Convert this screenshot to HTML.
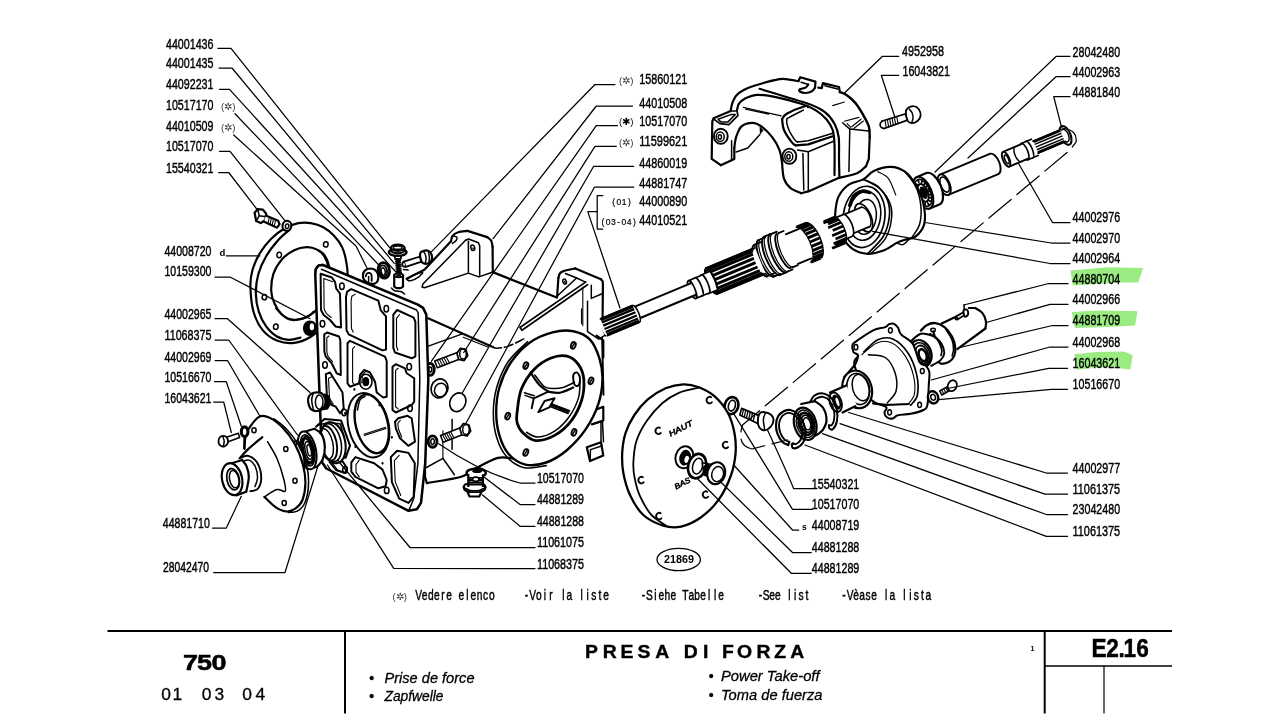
<!DOCTYPE html>
<html><head><meta charset="utf-8"><title>Presa di forza</title>
<style>
html,body{margin:0;padding:0;background:#fff;}
body{width:1280px;height:720px;overflow:hidden;}
svg{display:block;will-change:transform;font-family:"Liberation Sans",sans-serif;}
.l{fill:none;stroke:#000;stroke-width:1.5;stroke-linecap:round;stroke-linejoin:round}
.o{fill:#fff;stroke:#000;stroke-width:2.2;stroke-linecap:round;stroke-linejoin:round}
.f{fill:none;stroke:#000;stroke-width:2.2;stroke-linecap:round;stroke-linejoin:round}
.t{fill:none;stroke:#000;stroke-width:1.1;stroke-linecap:round;stroke-linejoin:round}
.k{fill:#000;stroke:none}
</style></head><body>
<svg width="1280" height="720" viewBox="0 0 1280 720">
<rect width="1280" height="720" fill="#fff"/>
<g id="hl" fill="#9aec82">
<polygon points="1070.4,270.4 1108,267.2 1143.1,268 1138.3,282.4 1120.7,282.4 1072.8,285.6"/>
<polygon points="1072,312 1100,310.4 1137.5,311.2 1135.1,325.5 1108,327.1 1075.2,327.9 1072.8,320.7"/>
<polygon points="1074.4,354.3 1096.8,351.9 1123.9,351.4 1132.7,355.1 1130.3,369.5 1108,367.1 1076.8,369.5"/>

</g>
<g id="parts">
<path class="o" d="M422.5,271.3 L451.6,240.3 L458.1,232.3 L467.5,230.9 L487.2,237.1 L492.6,246.9 L492.8,272.2 L557.1,296.6 L558.4,277.8 L562.8,271.6 L575.3,268.4 L601.6,279.7 L602.9,327.5 L603.4,404.4 L587.5,413.8 L505.0,438.1 L428.1,449.4 L418.8,365.0 L411.3,290.0 Z" style="stroke:none"/>
<path class="f" d="M451.0,241.3 C451.3,240.4 451.3,237.5 452.5,236.0 C453.7,234.5 455.6,233.1 458.1,232.3 C460.6,231.4 465.9,231.2 467.5,230.9"/>
<path class="f" d="M467.5,230.9 L487.2,237.1"/>
<path class="f" d="M487.2,237.1 C487.8,237.7 490.2,238.9 491.1,240.5 C492.0,242.1 492.4,245.8 492.6,246.9"/>
<path class="f" d="M492.6,246.9 L492.8,272.2"/>
<path class="f" d="M451.0,241.3 L424.4,269.8 L406.6,278.8"/>
<path class="l" d="M453.1,236.0 C453.7,236.2 456.3,236.4 456.8,237.1 C457.3,237.8 457.0,239.3 456.3,240.3 C455.5,241.4 453.1,243.0 452.5,243.5"/>
<path class="l" d="M465.6,240.3 L468.6,239.0 L478.4,242.8 L479.7,245.9 L479.7,275.4"/>
<path class="l" d="M468.4,241.3 L468.4,272.2"/>
<path class="l" d="M465.6,240.3 L422.9,284.0 L422.1,287.0 L424.4,287.8 L468.4,273.1 L478.8,276.9 L492.3,272.2"/>
<ellipse class="l" cx="472.8" cy="247.8" rx="1.9" ry="2.8" transform="rotate(-15 472.8 247.8)"/>
<ellipse class="k" cx="473.1" cy="248.4" rx="0.8" ry="1.1" transform="rotate(-15 473.1 248.4)"/>
<path class="l" d="M407.5,279.7 C407.8,278.8 410.6,276.6 413.1,275.4 C415.6,274.1 421.6,271.9 422.5,272.2 C423.4,272.4 420.6,275.5 418.8,276.9 C416.9,278.3 413.1,280.2 411.3,280.6 C409.4,281.1 407.2,280.6 407.5,279.7 Z"/>
<path class="f" d="M492.8,272.2 L556.8,297.5" style="stroke-width:2.40"/>
<path class="f" d="M557.1,297.1 L558.4,277.8"/>
<path class="f" d="M558.4,277.8 C558.7,277.1 558.8,274.7 559.8,273.5 C560.7,272.3 561.5,271.7 564.1,270.9 C566.7,270.0 573.4,268.8 575.3,268.4"/>
<path class="f" d="M575.3,268.4 L601.0,279.3"/>
<path class="f" d="M601.0,279.3 C601.3,279.7 602.4,280.6 602.7,281.6 C603.0,282.6 602.8,284.7 602.9,285.3"/>
<path class="f" d="M602.9,285.3 L602.5,327.5 L605.7,335.4"/>
<path class="l" d="M565.4,273.5 L576.6,278.0 L558.1,295.3"/>
<path class="l" d="M576.6,278.0 L585.6,282.1"/>
<path class="f" d="M585.6,282.1 L520.0,327.5 L521.9,330.3 L587.5,284.8" style="stroke-width:1.68"/>
<ellipse class="l" cx="564.6" cy="281.6" rx="1.7" ry="2.6" transform="rotate(-20 564.6 281.6)"/>
<ellipse class="k" cx="564.8" cy="281.9" rx="0.8" ry="1.1" transform="rotate(-20 564.8 281.9)"/>
<path class="l" d="M591.3,285.3 L591.3,298.4 L602.1,293.8"/>
<path class="l" d="M587.5,301.3 L587.5,331.6 L598.8,339.1 L604.8,335.4"/>
<path class="t" d="M582.8,287.2 L582.8,325.6 M581.5,308.8 L581.5,323.8"/>
<path class="f" d="M428.1,318.3 L492.8,347.0"/>
<path class="l" d="M492.8,347.0 C493.5,347.2 494.3,348.5 496.9,348.3 C499.6,348.2 504.0,347.7 508.6,346.1 C513.1,344.5 521.5,340.0 524.1,338.8" style="stroke-dasharray:9 3"/>
<path class="l" d="M428.3,346.1 L461.7,334.1"/>
<path class="t" d="M463.2,337.3 L487.8,347.0"/>
<path class="f" d="M596.5,335.7 L603.3,340.3 L603.3,357.5"/>
<path class="f" d="M597.6,409.1 L603.3,406.8 L603.3,420.5 L591.9,424.4"/>
<path class="f" d="M586.8,447.3 L601.0,442.3 L603.3,455.6 L590.0,461.1 L586.8,447.3"/>
<path class="l" d="M590.0,461.1 L590.5,449.6 L602.2,445.7"/>
<path class="l" d="M591.9,424.4 L601.0,421.7 L601.0,442.3"/>
<path class="f" d="M518.5,459.5 C517.4,459.3 515.1,458.6 511.7,458.3 C508.2,458.1 504.0,456.2 497.9,457.9 C491.8,459.6 481.1,465.5 475.0,468.6 C468.9,471.8 469.3,474.3 461.3,476.7 C453.2,479.1 432.6,482.0 426.9,483.1"/>
<path class="f" d="M426.9,483.1 L425.0,476.7 L425.0,458.3"/>
<path class="l" d="M426.4,467.5 L442.9,458.3 L454.4,474.8"/>
<path class="t" d="M442.9,458.3 L442.9,430.8"/>
<path class="l" d="M452.1,419.4 L452.1,449.2"/>
<ellipse class="l" cx="439.5" cy="388.4" rx="8.3" ry="9.6" transform="rotate(20 439.5 388.4)" style="stroke-width:1.68"/>
<ellipse class="l" cx="440.6" cy="390.0" rx="6.0" ry="6.9" transform="rotate(20 440.6 390.0)"/>
<ellipse class="l" cx="457.8" cy="402.2" rx="7.8" ry="9.6" transform="rotate(25 457.8 402.2)" style="stroke-width:1.68"/>
<path class="o" d="M460.0,351.4 L434.7,361.0 L437.3,367.8 L462.5,358.1 Z" style="stroke-width:1.56"/>
<path class="t" d="M446.1,356.7 L449.5,363.1 M443.8,357.5 L447.3,364.0 M441.6,358.4 L445.0,364.8 M439.3,359.3 L442.7,365.7 M437.0,360.1 L440.5,366.6"/>
<path class="o" d="M467.7,355.5 L464.2,360.6 L458.7,359.4 L456.9,353.2 L460.4,348.2 L465.8,349.3 Z" style="stroke-width:1.68"/>
<ellipse class="l" cx="463.0" cy="354.1" rx="3.3" ry="5.0" transform="rotate(0 463.0 354.1)"/>
<ellipse class="o" cx="430.3" cy="369.4" rx="3.9" ry="6.0" transform="rotate(0 430.3 369.4)" style="stroke-width:2.88"/>
<ellipse class="l" cx="430.3" cy="369.4" rx="1.4" ry="2.5" transform="rotate(0 430.3 369.4)"/>
<path class="o" d="M462.9,426.8 L440.5,435.5 L443.1,442.2 L465.5,433.5 Z" style="stroke-width:1.56"/>
<path class="t" d="M450.6,431.6 L454.0,438.0 M448.5,432.3 L452.0,438.8 M446.5,433.1 L450.0,439.6 M444.5,433.9 L448.0,440.3 M442.5,434.7 L446.0,441.1"/>
<path class="o" d="M470.7,430.9 L467.1,436.0 L461.7,434.8 L459.8,428.6 L463.4,423.5 L468.8,424.7 Z" style="stroke-width:1.68"/>
<ellipse class="l" cx="466.0" cy="429.5" rx="3.3" ry="5.0" transform="rotate(0 466.0 429.5)"/>
<ellipse class="o" cx="432.6" cy="441.6" rx="4.4" ry="5.7" transform="rotate(0 432.6 441.6)" style="stroke-width:2.88"/>
<ellipse class="l" cx="432.6" cy="441.6" rx="1.8" ry="2.8" transform="rotate(0 432.6 441.6)"/>
<path class="o" d="M496.2,412.5 C496.2,404.5 496.9,395.8 499.4,387.5 C501.8,379.2 505.8,370.0 510.8,362.5 C515.9,355.0 522.6,347.7 529.6,342.7 C536.5,337.7 545.2,334.2 552.5,332.3 C559.8,330.4 567.1,330.0 573.3,331.2 C579.6,332.5 585.7,335.1 590.0,339.6 C594.3,344.1 597.3,351.7 599.4,358.3 C601.5,364.9 602.7,371.5 602.5,379.2 C602.3,386.8 601.1,395.8 598.3,404.2 C595.6,412.5 591.0,421.5 585.8,429.2 C580.6,436.8 573.7,444.4 567.1,450.0 C560.5,455.6 553.2,460.1 546.2,462.5 C539.3,464.9 531.7,466.0 525.4,464.6 C519.2,463.2 513.1,459.0 508.8,454.2 C504.4,449.3 501.5,442.4 499.4,435.4 C497.3,428.5 496.2,420.5 496.2,412.5 Z" style="stroke-width:2.40"/>
<path class="l" d="M527.5,341.7 C524.3,345.0 513.5,353.8 508.3,361.5 C503.2,369.1 499.2,378.8 496.7,387.5 C494.2,396.2 493.3,405.2 493.3,413.5 C493.3,421.9 494.4,430.3 496.7,437.5 C498.9,444.7 502.0,451.6 506.7,456.7 C511.3,461.7 517.8,466.2 524.4,467.7 C531.0,469.2 542.6,466.0 546.2,465.6" style="stroke-width:1.56"/>
<path class="o" d="M517.1,412.5 C517.8,406.9 518.5,396.7 521.2,389.6 C524.0,382.5 528.9,375.0 533.8,369.8 C538.6,364.6 544.9,360.6 550.4,358.3 C556.0,356.1 562.4,355.2 567.1,356.2 C571.8,357.3 575.8,360.8 578.5,364.6 C581.3,368.4 583.2,373.3 583.8,379.2 C584.3,385.1 583.8,393.1 581.7,400.0 C579.6,406.9 575.8,414.9 571.2,420.8 C566.7,426.7 560.5,432.1 554.6,435.4 C548.7,438.7 541.0,441.0 535.8,440.6 C530.6,440.3 526.5,436.3 523.3,433.3 C520.2,430.4 518.1,426.4 517.1,422.9 C516.0,419.4 516.4,418.1 517.1,412.5 Z" style="stroke-width:2.76"/>
<path class="l" d="M526.5,432.3 C528.4,433.1 533.2,437.3 537.9,437.1 C542.6,436.9 549.4,434.7 554.6,431.2 C559.8,427.8 565.2,422.2 569.2,416.7 C573.2,411.1 576.7,403.8 578.5,397.9 C580.3,392.0 579.8,384.0 580.0,381.2"/>
<path class="f" d="M573.3,375.0 C573.8,373.0 576.0,372.0 577.1,372.5 C578.2,373.0 579.8,376.0 580.0,378.1 C580.2,380.3 579.5,384.4 578.5,385.4 C577.6,386.5 575.2,386.1 574.4,384.4 C573.5,382.6 572.9,377.0 573.3,375.0 Z" style="stroke-width:1.92"/>
<path class="f" d="M530.6,372.5 C532.0,374.5 536.0,381.2 539.0,384.4 C541.9,387.6 546.8,390.5 548.3,391.7" style="stroke-width:2.16"/>
<path class="f" d="M548.3,391.7 C550.2,391.8 555.6,393.4 559.8,392.7 C564.0,392.0 571.1,388.4 573.3,387.5" style="stroke-width:2.16"/>
<path class="l" d="M534.8,375.0 C536.4,376.9 541.2,384.2 544.2,386.5 C547.1,388.7 549.4,388.4 552.5,388.5 C555.6,388.7 559.3,388.5 562.9,387.5 C566.6,386.5 572.5,383.2 574.4,382.3"/>
<path class="f" d="M531.7,408.3 L533.8,398.3 L548.3,391.7" style="stroke-width:1.92"/>
<path class="f" d="M538.3,412.1 L544.6,401.0 L554.6,398.3 L549.4,407.3 L538.3,412.1" style="stroke-width:1.92"/>
<path class="l" d="M524.4,392.7 L534.2,395.8 M525.0,395.4 L533.3,398.3 M550.8,406.7 L568.1,413.5 M552.5,404.2 L569.6,410.8 M551.7,405.4 L568.8,412.1"/>
<ellipse class="l" cx="573.3" cy="345.4" rx="2.3" ry="3.5" transform="rotate(20 573.3 345.4)" style="stroke-width:1.80"/>
<path class="l" d="M572.1,347.3 L574.4,343.5"/>
<ellipse class="l" cx="525.8" cy="365.6" rx="2.3" ry="3.5" transform="rotate(20 525.8 365.6)" style="stroke-width:1.80"/>
<path class="l" d="M524.6,367.5 L526.9,363.8"/>
<ellipse class="l" cx="591.0" cy="380.8" rx="2.3" ry="3.5" transform="rotate(20 591.0 380.8)" style="stroke-width:1.80"/>
<path class="l" d="M589.8,382.7 L592.1,379.0"/>
<ellipse class="l" cx="507.7" cy="416.2" rx="2.3" ry="3.5" transform="rotate(20 507.7 416.2)" style="stroke-width:1.80"/>
<path class="l" d="M506.5,418.1 L508.8,414.4"/>
<ellipse class="l" cx="574.0" cy="432.3" rx="2.3" ry="3.5" transform="rotate(20 574.0 432.3)" style="stroke-width:1.80"/>
<path class="l" d="M572.7,434.2 L575.0,430.4"/>
<ellipse class="l" cx="525.8" cy="452.5" rx="2.3" ry="3.5" transform="rotate(20 525.8 452.5)" style="stroke-width:1.80"/>
<path class="l" d="M524.6,454.4 L526.9,450.6"/>
<path class="f" d="M602.1,337.9 L603.5,394.8" style="stroke-width:1.92"/>
<path class="l" d="M602.5,421.9 L603.5,441.7"/>
<path class="o" d="M250.4,286.7 C250.2,279.7 250.9,275.6 252.5,270.0 C254.1,264.4 256.7,258.5 259.8,253.3 C262.9,248.1 267.1,242.9 271.2,238.8 C275.4,234.6 280.3,230.9 284.8,228.3 C289.3,225.7 294.0,224.0 298.3,223.1 C302.7,222.3 306.7,222.4 310.8,223.1 C315.0,223.8 319.5,225.2 323.3,227.3 C327.2,229.4 330.6,232.3 333.8,235.6 C336.9,238.9 340.0,242.7 342.1,247.1 C344.2,251.4 345.4,256.5 346.2,261.7 C347.1,266.9 348.3,271.4 347.3,278.3 C346.2,285.3 343.3,296.0 340.0,303.3 C336.7,310.6 332.4,316.5 327.5,322.1 C322.6,327.6 316.4,333.2 310.8,336.7 C305.3,340.1 299.7,342.2 294.2,342.9 C288.6,343.6 282.7,342.9 277.5,340.8 C272.3,338.8 266.9,335.3 262.9,330.4 C258.9,325.6 255.6,319.0 253.5,311.7 C251.5,304.4 250.6,293.6 250.4,286.7 Z"/>
<path class="f" d="M290.0,229.4 C288.1,231.1 282.5,235.3 278.5,239.8 C274.5,244.3 269.4,250.7 266.0,256.5 C262.7,262.2 260.0,268.1 258.3,274.2 C256.6,280.2 255.8,286.7 255.8,292.9 C255.9,299.2 257.0,306.1 258.8,311.7 C260.5,317.2 263.1,322.2 266.0,326.2 C269.0,330.3 272.6,334.0 276.5,336.2 C280.3,338.5 285.0,339.5 289.0,339.8 C293.0,340.0 298.5,338.1 300.4,337.7"/>
<path class="o" d="M271.2,290.8 C271.1,286.0 271.6,279.4 273.3,274.2 C275.1,269.0 278.2,263.6 281.7,259.6 C285.1,255.6 290.0,252.3 294.2,250.2 C298.3,248.1 302.8,247.2 306.7,247.1 C310.5,247.0 314.1,248.0 317.1,249.6 C320.0,251.1 322.5,253.4 324.4,256.5 C326.3,259.5 327.8,263.2 328.5,267.9 C329.2,272.6 329.8,278.7 328.5,284.6 C327.3,290.5 324.5,298.1 321.2,303.3 C318.0,308.5 313.6,313.1 308.8,315.8 C303.9,318.6 296.6,320.3 292.1,320.0 C287.6,319.7 284.6,316.9 281.7,314.2 C278.7,311.4 276.1,307.2 274.4,303.3 C272.6,299.4 271.4,295.7 271.2,290.8 Z"/>
<path class="f" d="M318.1,250.2 C319.0,250.8 321.8,252.1 323.3,253.8 C324.8,255.4 326.1,257.8 327.1,260.0 C328.1,262.2 328.8,265.7 329.2,266.9"/>
<path class="l" d="M275.8,308.5 C277.2,309.8 280.7,314.4 283.8,316.2 C286.8,318.1 290.3,319.4 294.2,319.6 C298.0,319.8 303.5,318.8 306.7,317.5 C309.9,316.2 312.2,312.6 313.3,311.7"/>
<ellipse class="l" cx="325.8" cy="244.4" rx="2.3" ry="2.7" transform="rotate(10 325.8 244.4)"/>
<ellipse class="l" cx="279.2" cy="255.0" rx="2.3" ry="2.7" transform="rotate(10 279.2 255.0)"/>
<ellipse class="l" cx="264.4" cy="297.1" rx="2.3" ry="2.7" transform="rotate(10 264.4 297.1)"/>
<ellipse class="l" cx="275.8" cy="326.7" rx="2.3" ry="2.7" transform="rotate(10 275.8 326.7)"/>
<ellipse class="o" cx="309.8" cy="328.3" rx="5.8" ry="6.7" transform="rotate(0 309.8 328.3)" style="fill:#000"/>
<ellipse class="o" cx="311.9" cy="326.7" rx="3.3" ry="4.6" transform="rotate(0 311.9 326.7)"/>
<path class="o" d="M254.6,212.7 L257.7,209.2 L262.9,209.6 L266.2,213.8 L265.4,220.0 L260.8,223.1 L256.2,221.0 Z"/>
<path class="l" d="M257.7,209.2 L259.2,215.8 L256.2,221.0"/>
<path class="l" d="M259.2,215.8 L265.8,216.7"/>
<path class="o" d="M265.8,215.4 L278.1,220.8 L279.6,224.2 L277.1,227.7 L264.2,221.7"/>
<path class="t" d="M269.2,218.3 L267.9,223.1 M271.2,219.4 L270.0,224.2 M273.3,220.2 L272.1,225.2 M275.4,221.0 L274.2,226.2"/>
<ellipse class="o" cx="286.9" cy="225.8" rx="4.4" ry="5.0" transform="rotate(15 286.9 225.8)" style="stroke-width:2.16"/>
<ellipse class="l" cx="287.1" cy="226.2" rx="1.7" ry="2.3" transform="rotate(15 287.1 226.2)"/>
<path class="f" d="M315.3,275.0 C315.4,274.1 315.3,271.0 315.8,269.5 C316.3,268.0 317.4,266.6 318.5,265.8 C319.6,265.0 321.8,265.0 322.5,264.9"/>
<path class="o" d="M315.3,275.0 L315.8,269.0 L318.5,265.6 L323.0,265.0 L417.9,304.6 L423.1,307.9 L426.3,314.6 L428.3,380.0 L425.2,463.3 L421.0,502.9 L416.9,509.2 L408.5,510.8 L326.3,468.5 L322.1,462.3 L319.0,380.0 Z" style="stroke-width:2.52"/>
<path class="l" d="M321.5,269.2 L416.5,310.0 L418.2,313.0 L419.8,380.0 L417.9,463.3 L413.7,498.7 L409.0,510.0" style="stroke-width:1.50"/>
<path class="f" d="M320.6,273.7 L331.9,277.5 L335.0,281.9 L336.3,288.7 L340.0,293.7 L341.0,327.5 L335.6,326.5 L330.0,320.0 L323.7,315.0 L321.0,310.0 Z" style="stroke-width:1.98"/>
<path class="t" d="M331.1,317.5 L326.2,313.3 L324.1,309.1 L323.8,278.6 L332.6,281.8"/>
<path class="f" d="M346.0,296.9 L347.1,291.7 L351.3,289.2 L378.3,300.6 L380.8,310.4 L386.0,316.3 L386.0,349.6 L382.5,350.4 L348.7,334.4 L346.5,330.2 Z" style="stroke-width:1.98"/>
<path class="t" d="M353.2,332.1 L351.4,328.6 L351.1,300.6 L351.9,296.2 L355.2,294.1"/>
<path class="f" d="M393.3,314.6 L397.1,310.0 L413.7,317.7 L415.4,321.9 L415.4,356.3 L411.7,358.3 L395.0,352.5 L393.3,347.9 Z" style="stroke-width:1.98"/>
<path class="t" d="M397.9,350.2 L396.5,346.3 L396.5,318.3 L399.5,314.5"/>
<path class="f" d="M324.2,334.5 L327.0,332.5 L339.0,336.5 L340.3,340.0 L340.8,375.0 L336.7,373.3 L331.7,363.3 L325.8,356.7 L324.4,351.7 Z" style="stroke-width:1.98"/>
<path class="t" d="M332.6,361.9 L328.0,356.4 L326.9,352.2 L326.8,337.7 L328.9,336.0"/>
<path class="f" d="M325.8,374.2 L330.0,372.5 L342.5,392.5 L343.7,408.3 L340.0,413.3 L335.8,406.7 L331.7,405.0 L327.0,398.0 Z" style="stroke-width:1.98"/>
<path class="t" d="M333.1,404.1 L329.5,398.2 L328.5,378.2 L331.8,376.8"/>
<path class="f" d="M347.5,343.3 L350.0,340.8 L385.0,356.7 L386.7,360.8 L386.7,396.7 L383.3,397.5 L376.7,392.5 L375.0,381.7 L370.0,372.5 L364.2,370.0 L360.0,375.0 L359.2,383.3 L350.0,386.7 L347.5,383.3 Z" style="stroke-width:1.98"/>
<path class="t" d="M365.7,371.2 L362.4,375.4 L361.8,382.4 L354.6,385.2 L352.6,382.4 L352.6,348.8 L354.6,346.7"/>
<path class="f" d="M392.5,366.7 L395.8,364.2 L405.0,368.3 L406.7,373.3 L414.2,378.3 L414.2,401.7 L411.7,405.0 L395.8,412.5 L392.5,410.0 Z" style="stroke-width:1.98"/>
<path class="t" d="M398.2,408.9 L395.6,406.8 L395.6,370.4 L398.2,368.3"/>
<path class="f" d="M395.0,421.7 L398.3,418.3 L407.5,415.8 L411.7,418.3 L415.0,441.7 L408.3,445.8 L400.0,438.3 L395.8,428.3 Z" style="stroke-width:1.98"/>
<path class="t" d="M401.7,437.2 L398.4,428.8 L397.8,423.3 L400.3,420.4"/>
<path class="f" d="M390.8,457.1 L397.1,450.8 L408.5,452.9 L414.8,463.3 L413.7,496.7 L408.5,502.9 L399.2,498.7 L391.9,482.1 Z" style="stroke-width:1.98"/>
<path class="t" d="M400.8,495.5 L395.2,481.6 L394.3,460.6 L399.2,455.3"/>
<path class="f" d="M351.3,462.3 L355.4,457.1 L374.2,463.3 L382.5,469.6 L386.7,480.0 L385.6,486.3 L378.3,488.3 L355.4,476.9 L351.3,471.7 Z" style="stroke-width:1.98"/>
<path class="t" d="M359.2,476.7 L356.0,472.4 L356.0,464.5 L359.2,460.1"/>
<path class="f" d="M329.5,462.0 L333.0,458.0 L343.0,462.0 L347.0,468.0 L345.0,473.0 L336.0,470.0 Z" style="stroke-width:1.98"/>
<path class="t" d="M337.4,469.8 L332.4,463.1 L335.1,459.7"/>
<ellipse class="f" cx="368.5" cy="425.2" rx="20.0" ry="32.8" transform="rotate(-14 368.5 425.2)" style="stroke-width:1.92"/>
<ellipse class="f" cx="371.7" cy="423.8" rx="16.0" ry="30.0" transform="rotate(-14 371.7 423.8)" style="stroke-width:2.40"/>
<path class="l" d="M357.5,410.0 C357.9,408.3 358.8,402.2 360.0,400.0 C361.2,397.8 364.2,397.1 365.0,396.5"/>
<path class="t" d="M364.0,434.2 L385.6,427.2 M364.4,435.6 L386.0,428.6"/>
<ellipse class="f" cx="365.8" cy="381.7" rx="6.2" ry="7.5" transform="rotate(0 365.8 381.7)" style="stroke-width:1.56"/>
<ellipse class="k" cx="365.8" cy="381.7" rx="3.4" ry="4.6" transform="rotate(0 365.8 381.7)"/>
<ellipse class="l" cx="341.9" cy="286.3" rx="2.3" ry="3.2" transform="rotate(0 341.9 286.3)"/>
<ellipse class="l" cx="322.5" cy="323.7" rx="2.3" ry="3.2" transform="rotate(0 322.5 323.7)"/>
<ellipse class="l" cx="386.3" cy="308.7" rx="2.3" ry="3.2" transform="rotate(0 386.3 308.7)"/>
<ellipse class="l" cx="325.0" cy="365.0" rx="2.3" ry="3.2" transform="rotate(0 325.0 365.0)"/>
<ellipse class="l" cx="409.2" cy="366.7" rx="2.3" ry="3.2" transform="rotate(0 409.2 366.7)"/>
<ellipse class="l" cx="410.0" cy="408.3" rx="2.3" ry="3.2" transform="rotate(0 410.0 408.3)"/>
<ellipse class="l" cx="345.0" cy="470.0" rx="2.3" ry="3.2" transform="rotate(0 345.0 470.0)"/>
<ellipse class="l" cx="386.7" cy="490.4" rx="2.3" ry="3.2" transform="rotate(0 386.7 490.4)"/>
<ellipse class="l" cx="344.2" cy="412.5" rx="2.3" ry="3.2" transform="rotate(0 344.2 412.5)"/>
<ellipse class="k" cx="354.4" cy="389.4" rx="1.0" ry="1.4" transform="rotate(0 354.4 389.4)"/>
<ellipse class="k" cx="379.4" cy="405.0" rx="1.0" ry="1.4" transform="rotate(0 379.4 405.0)"/>
<ellipse class="k" cx="391.9" cy="437.3" rx="1.0" ry="1.4" transform="rotate(0 391.9 437.3)"/>
<ellipse class="k" cx="382.5" cy="463.3" rx="1.0" ry="1.4" transform="rotate(0 382.5 463.3)"/>
<ellipse class="k" cx="355.4" cy="446.7" rx="1.0" ry="1.4" transform="rotate(0 355.4 446.7)"/>
<ellipse class="k" cx="345.0" cy="413.3" rx="1.0" ry="1.4" transform="rotate(0 345.0 413.3)"/>
<path class="f" d="M316.1,426.7 L324.4,418.9 L341.1,420.6 L350.0,445.6 L345.6,457.8 L333.3,457.8" style="stroke-width:2.04"/>
<ellipse class="o" cx="333.1" cy="442.7" rx="12.1" ry="20.8" transform="rotate(-12 333.1 442.7)" style="stroke-width:2.04"/>
<ellipse class="f" cx="331.0" cy="442.7" rx="10.0" ry="19.2" transform="rotate(-12 331.0 442.7)" style="stroke-width:1.56"/>
<ellipse class="f" cx="328.3" cy="443.3" rx="8.3" ry="17.5" transform="rotate(-12 328.3 443.3)" style="stroke-width:1.92"/>
<ellipse class="l" cx="326.2" cy="443.8" rx="6.7" ry="15.4" transform="rotate(-12 326.2 443.8)"/>
<path class="l" d="M317.5,425.0 L330.0,422.5 L340.4,424.0 L344.2,437.5"/>
<path class="o" d="M302.9,432.3 L313.3,428.8 L323.8,437.5 L324.8,455.2 L317.5,466.7 L307.1,468.8 Z" style="stroke:none"/>
<path class="f" d="M304.6,431.7 L314.4,428.8"/>
<path class="f" d="M314.4,428.8 C315.6,429.7 319.9,431.4 321.7,434.4 C323.4,437.4 324.6,442.7 324.8,446.9 C325.0,451.0 324.0,456.1 322.7,459.4 C321.4,462.7 318.0,465.5 317.1,466.7"/>
<path class="f" d="M317.1,466.7 L307.5,469.2"/>
<ellipse class="o" cx="307.1" cy="450.4" rx="8.8" ry="19.2" transform="rotate(-12 307.1 450.4)" style="stroke-width:2.04"/>
<ellipse class="l" cx="307.5" cy="450.4" rx="6.7" ry="15.8" transform="rotate(-12 307.5 450.4)"/>
<ellipse class="f" cx="307.9" cy="450.4" rx="5.2" ry="12.9" transform="rotate(-12 307.9 450.4)" style="stroke-width:3.60;stroke-dasharray:2 2"/>
<ellipse class="o" cx="308.5" cy="450.4" rx="3.3" ry="9.2" transform="rotate(-12 308.5 450.4)" style="stroke-width:1.56"/>
<ellipse class="l" cx="309.2" cy="450.4" rx="1.9" ry="5.8" transform="rotate(-12 309.2 450.4)"/>
<ellipse class="o" cx="299.2" cy="455.8" rx="5.0" ry="15.4" transform="rotate(-12 299.2 455.8)" style="stroke-width:1.92"/>
<ellipse class="l" cx="299.8" cy="455.8" rx="3.5" ry="12.9" transform="rotate(-12 299.8 455.8)"/>
<path class="o" d="M249.8,427.1 C252.0,424.0 255.9,418.2 259.2,416.7 C262.5,415.1 265.8,416.0 269.6,417.7 C273.4,419.4 277.9,422.7 282.1,427.1 C286.3,431.4 291.1,437.5 294.6,443.8 C298.1,450.0 301.1,458.0 302.9,464.6 C304.7,471.2 305.5,477.4 305.4,483.3 C305.3,489.2 304.1,495.8 302.5,500.0 C300.9,504.2 298.3,506.4 295.6,508.3 C293.0,510.2 290.0,511.6 286.7,511.5 C283.4,511.3 279.5,509.7 275.8,507.3 C272.1,504.9 267.7,499.5 264.4,496.9 C261.1,494.3 258.5,492.7 256.0,491.7 C253.6,490.6 251.7,493.4 249.8,490.6 C247.9,487.8 246.3,480.4 244.6,475.0 C242.8,469.6 239.2,462.8 239.4,458.3 C239.5,453.8 244.6,451.7 245.6,447.9 C246.7,444.1 244.9,438.9 245.6,435.4 C246.3,431.9 247.5,430.2 249.8,427.1 Z" style="stroke:none"/>
<path class="f" d="M244.6,449.0 C244.8,446.7 244.8,439.1 245.6,435.4 C246.5,431.8 247.5,430.2 249.8,427.1 C252.0,424.0 255.9,418.2 259.2,416.7 C262.5,415.1 265.8,416.0 269.6,417.7 C273.4,419.4 277.9,422.7 282.1,427.1 C286.3,431.4 291.1,437.5 294.6,443.8 C298.1,450.0 301.1,458.0 302.9,464.6 C304.7,471.2 305.5,477.4 305.4,483.3 C305.3,489.2 304.1,495.8 302.5,500.0 C300.9,504.2 298.3,506.4 295.6,508.3 C293.0,510.2 290.0,511.6 286.7,511.5 C283.4,511.3 279.5,509.7 275.8,507.3 C272.1,504.9 266.3,498.6 264.4,496.9" style="stroke-width:2.16"/>
<path class="f" d="M273.8,418.8 C275.8,420.4 282.2,424.4 286.2,428.8 C290.3,433.1 295.0,438.8 298.3,444.8 C301.7,450.8 304.8,458.0 306.5,464.6 C308.2,471.2 308.8,478.1 308.5,484.4 C308.3,490.7 306.8,498.1 305.0,502.5 C303.2,506.9 300.5,509.2 297.7,510.8 C294.9,512.5 289.9,512.2 288.3,512.5" style="stroke-width:1.56"/>
<path class="f" d="M262.3,437.1 C259.9,439.2 251.4,446.1 247.7,449.6 C244.0,453.1 241.3,456.5 240.0,457.9"/>
<path class="l" d="M267.5,441.7 C269.1,444.4 274.2,452.1 276.9,458.3 C279.6,464.6 282.4,473.7 283.8,479.2 C285.1,484.7 286.4,489.5 285.2,491.2 C284.1,493.0 280.3,488.6 276.9,489.6 C273.4,490.5 266.5,495.7 264.4,496.9"/>
<path class="f" d="M239.4,458.3 C240.8,457.9 244.8,455.1 247.7,455.8 C250.7,456.5 254.8,459.0 257.1,462.5 C259.3,466.0 261.1,472.7 261.2,477.1 C261.4,481.4 259.9,486.2 258.1,488.5 C256.3,490.9 251.7,490.8 250.4,491.2" style="stroke-width:1.92"/>
<path class="l" d="M243.5,460.8 C244.6,460.8 247.8,459.4 249.8,460.4 C251.8,461.4 254.1,463.7 255.4,466.7 C256.7,469.6 257.6,474.8 257.5,478.1 C257.4,481.4 255.4,485.1 255.0,486.5"/>
<ellipse class="l" cx="254.0" cy="430.2" rx="2.1" ry="2.5" transform="rotate(0 254.0 430.2)"/>
<ellipse class="l" cx="285.8" cy="449.0" rx="2.1" ry="2.5" transform="rotate(0 285.8 449.0)"/>
<ellipse class="l" cx="295.0" cy="480.8" rx="2.1" ry="2.5" transform="rotate(0 295.0 480.8)"/>
<ellipse class="l" cx="284.2" cy="503.1" rx="2.1" ry="2.5" transform="rotate(0 284.2 503.1)"/>
<path class="o" d="M231.7,463.3 L242.1,460.4 L247.7,472.9 L246.7,491.7 L236.2,495.4 L223.8,483.3 Z" style="stroke:none"/>
<path class="f" d="M231.0,463.5 L242.1,460.0"/>
<path class="f" d="M236.2,495.4 L246.2,491.7"/>
<path class="f" d="M242.1,460.0 C242.8,461.1 245.6,463.8 246.7,466.7 C247.8,469.5 248.8,472.9 248.8,477.1 C248.7,481.3 246.7,489.2 246.2,491.7"/>
<ellipse class="o" cx="232.1" cy="479.2" rx="10.0" ry="16.2" transform="rotate(-12 232.1 479.2)" style="stroke-width:2.16"/>
<ellipse class="f" cx="233.1" cy="479.2" rx="6.2" ry="10.8" transform="rotate(-12 233.1 479.2)" style="stroke-width:1.68"/>
<ellipse class="l" cx="234.2" cy="479.2" rx="4.6" ry="8.8" transform="rotate(-12 234.2 479.2)"/>
<path class="o" d="M225.8,437.5 L238.3,433.3 L239.6,437.5 L227.5,442.1 Z" style="stroke-width:1.56"/>
<path class="o" d="M219.6,437.5 C220.4,436.5 222.1,435.8 223.3,435.8 C224.5,435.8 226.1,436.4 226.9,437.5 C227.6,438.6 228.3,441.3 227.9,442.7 C227.6,444.2 226.0,445.7 224.8,446.2 C223.6,446.8 221.7,446.5 220.6,445.8 C219.6,445.1 218.7,443.5 218.5,442.1 C218.4,440.7 218.8,438.5 219.6,437.5 Z" style="stroke-width:1.80"/>
<path class="l" d="M222.7,436.2 C223.0,437.1 224.1,439.7 224.2,441.2 C224.3,442.8 223.5,445.1 223.3,445.8"/>
<ellipse class="o" cx="244.6" cy="431.7" rx="3.3" ry="4.8" transform="rotate(0 244.6 431.7)" style="stroke-width:3.12"/>
<path class="l" d="M244.2,437.1 L243.8,448.3"/>
<path class="k" d="M324.2,393.3 L330.0,395.8 L331.0,404.2 L327.9,409.4 L321.7,410.4 Z"/>
<path class="o" d="M308.1,401.7 C307.8,399.4 308.2,397.3 309.2,395.8 C310.1,394.3 311.7,393.1 313.8,392.7 C315.8,392.3 319.7,392.2 321.7,393.3 C323.6,394.5 325.0,397.4 325.4,399.6 C325.8,401.8 325.3,404.8 324.2,406.7 C323.0,408.5 320.7,410.4 318.5,410.8 C316.4,411.3 313.0,410.9 311.2,409.4 C309.5,407.8 308.5,403.9 308.1,401.7 Z" style="stroke-width:2.16"/>
<path class="l" d="M313.3,393.3 C313.1,394.4 311.7,397.3 311.7,400.0 C311.7,402.7 313.1,407.8 313.3,409.4"/>
<ellipse class="l" cx="319.2" cy="402.1" rx="3.8" ry="7.1" transform="rotate(0 319.2 402.1)"/>
<path class="o" d="M711.7,158.9 L712.3,121.3 L713.5,118.3 L730.7,111.0 L732.1,103.8 L736.1,95.7 L743.3,90.3 L754.2,85.8 L779.4,79.1 L790.3,79.8 L798.4,81.2 L800.2,77.3 L815.5,81.6 L815.5,86.7 L821.9,88.1 L822.8,83.1 L839.0,87.0 L839.9,92.1 L846.2,94.8 L855.3,102.9 L862.5,113.7 L868.8,126.4 L869.7,137.2 L868.8,158.9 L866.1,166.1 L857.1,173.3 L839.0,177.8 L808.3,191.4 L801.1,193.2 L790.3,187.8 L784.0,178.7 L782.1,163.4 L779.4,149.9 L772.2,137.2 L761.4,126.4 L752.4,122.8 L741.5,126.4 L736.1,137.2 L734.3,158.9 L720.8,165.2 Z" style="stroke:none"/>
<path class="f" d="M720.8,165.2 L711.7,158.9 L712.3,121.3 L713.5,118.3 L730.7,111.0"/>
<path class="f" d="M730.7,111.0 C730.9,109.8 731.2,106.4 732.1,103.8 C733.0,101.3 734.2,97.9 736.1,95.7 C738.0,93.4 740.3,91.9 743.3,90.3 C746.3,88.6 748.1,87.6 754.2,85.8 C760.2,83.9 773.4,80.1 779.4,79.1 C785.5,78.1 787.1,79.4 790.3,79.8 C793.4,80.2 797.0,81.0 798.4,81.2"/>
<path class="f" d="M798.4,81.2 L800.2,77.3 L815.5,81.6 L815.0,87.6"/>
<path class="f" d="M815.0,87.6 C814.5,88.2 813.5,90.3 811.9,91.2 C810.4,92.1 807.6,92.9 805.6,93.0 C803.7,93.1 801.2,92.3 800.2,91.7 C799.2,91.1 798.8,90.1 799.7,89.4 C800.6,88.7 804.2,88.4 805.6,87.6 C807.1,86.8 807.9,85.0 808.3,84.5"/>
<path class="l" d="M808.3,84.5 L801.1,82.2"/>
<path class="f" d="M818.3,87.6 L821.9,88.1 L822.8,83.1 L839.0,87.0 L839.9,92.1"/>
<path class="l" d="M824.9,85.8 L837.6,89.0"/>
<path class="f" d="M839.9,92.1 C841.0,92.5 843.7,93.0 846.2,94.8 C848.8,96.6 852.6,99.8 855.3,102.9 C858.0,106.1 860.2,109.8 862.5,113.7 C864.7,117.7 867.6,122.5 868.8,126.4 C870.0,130.3 869.6,135.4 869.7,137.2" style="stroke-width:2.40"/>
<path class="f" d="M869.7,137.2 L868.8,158.9 L866.1,166.1"/>
<path class="f" d="M866.1,166.1 C864.6,167.3 861.6,171.4 857.1,173.3 C852.6,175.3 842.0,177.1 839.0,177.8"/>
<path class="f" d="M839.0,177.8 L808.3,191.4 L801.1,193.2"/>
<path class="f" d="M801.1,193.2 C799.3,192.3 793.1,190.2 790.3,187.8 C787.4,185.4 785.3,182.8 784.0,178.7 C782.6,174.7 782.4,166.0 782.1,163.4"/>
<path class="f" d="M782.1,163.4 C781.7,161.1 781.1,154.2 779.4,149.9 C777.8,145.5 775.2,141.1 772.2,137.2 C769.2,133.3 764.7,128.8 761.4,126.4 C758.1,124.0 755.7,122.8 752.4,122.8 C749.0,122.8 744.2,124.0 741.5,126.4 C738.8,128.8 737.3,133.6 736.1,137.2 C734.9,140.8 734.6,146.2 734.3,148.0"/>
<path class="f" d="M734.3,148.0 L734.3,158.9 L720.8,165.2"/>
<path class="l" d="M731.6,140.8 L731.6,160.1"/>
<path class="k" d="M759.6,126.0 L763.5,130.4 L759.9,134.5"/>
<path class="l" d="M759.9,134.5 L747.8,148.0 L736.1,152.0"/>
<path class="f" d="M737.0,110.1 C737.3,109.1 737.5,105.8 738.8,103.8 C740.2,101.9 742.0,99.9 745.1,98.4 C748.3,96.9 752.7,95.0 757.8,94.8 C762.9,94.6 768.6,95.6 775.8,97.1 C783.0,98.6 794.5,101.6 801.1,103.8 C807.7,106.0 811.3,107.6 815.5,110.1 C819.8,112.7 823.5,115.9 826.4,119.2 C829.2,122.5 831.3,125.8 832.7,130.0 C834.0,134.2 834.2,136.9 834.5,144.4 C834.8,152.0 834.5,170.0 834.5,175.1"/>
<path class="f" d="M759.6,88.8 C767.7,91.3 797.5,100.0 808.3,103.8 C819.2,107.7 820.2,108.6 824.6,111.9 C828.9,115.2 832.2,119.5 834.5,123.7 C836.8,127.9 837.9,131.3 838.7,137.2 C839.4,143.1 838.9,152.2 839.0,158.9 C839.1,165.6 839.3,174.2 839.4,177.3"/>
<path class="f" d="M808.3,107.1 C807.7,106.9 808.3,105.0 804.7,106.2 C801.1,107.3 790.4,111.6 786.7,113.7 C782.9,115.9 782.9,118.3 782.1,119.2"/>
<path class="f" d="M782.1,119.2 C782.4,121.0 782.3,126.1 784.0,130.0 C785.6,133.9 790.1,140.1 792.1,142.6 C794.0,145.2 795.1,144.9 795.7,145.3"/>
<path class="f" d="M795.7,145.3 L808.3,144.4 L832.7,136.3"/>
<path class="l" d="M803.3,110.1 C801.0,111.3 792.1,115.7 789.4,117.4 C786.6,119.0 786.8,118.1 786.7,120.1 C786.5,122.0 787.1,125.8 788.5,129.1 C789.8,132.4 793.3,137.8 794.8,139.9 C796.3,142.1 797.0,141.6 797.5,141.9"/>
<path class="l" d="M797.5,141.9 L808.3,140.8 L832.7,133.2"/>
<path class="t" d="M743.3,107.4 L781.2,115.9 M745.5,109.2 L768.6,114.1 M832.7,105.6 L844.4,102.0"/>
<path class="f" d="M730.7,111.0 L737.0,111.0 L737.9,115.6 L728.9,124.6 L719.9,123.7 L713.5,118.8" style="stroke-width:1.68"/>
<path class="l" d="M718.1,119.2 L730.7,114.6 L735.2,114.6 L728.0,121.9 L720.8,121.9 L718.1,119.2"/>
<ellipse class="o" cx="720.8" cy="136.3" rx="6.9" ry="7.6" transform="rotate(0 720.8 136.3)" style="stroke-width:1.92"/>
<ellipse class="l" cx="720.2" cy="136.7" rx="4.0" ry="4.7" transform="rotate(0 720.2 136.7)"/>
<ellipse class="l" cx="719.9" cy="136.9" rx="1.6" ry="2.2" transform="rotate(0 719.9 136.9)"/>
<ellipse class="o" cx="789.4" cy="156.2" rx="6.9" ry="7.6" transform="rotate(0 789.4 156.2)" style="stroke-width:1.92"/>
<ellipse class="l" cx="788.8" cy="156.5" rx="4.0" ry="4.7" transform="rotate(0 788.8 156.5)"/>
<ellipse class="l" cx="788.5" cy="156.7" rx="1.6" ry="2.2" transform="rotate(0 788.5 156.7)"/>
<path class="l" d="M802.9,153.5 L803.8,189.9 M808.3,151.7 L808.3,191.4"/>
<path class="l" d="M797.5,149.9 L808.3,151.7 L833.6,141.2"/>
<path class="l" d="M842.6,122.8 L849.8,129.1 L848.9,171.5"/>
<path class="l" d="M849.8,129.1 L868.8,130.9"/>
<path class="t" d="M844.4,121.3 L858.9,117.4 M851.7,126.7 L861.0,119.2 M853.8,128.5 L863.4,121.0 M847.1,123.7 L850.7,127.3"/>
<path class="o" d="M882.3,121.0 L905.8,113.7 L907.6,120.1 L884.1,128.5" style="stroke-width:1.68"/>
<path class="f" d="M882.3,121.0 C882.0,121.4 880.4,122.6 880.2,123.7 C880.0,124.7 880.4,126.5 881.1,127.3 C881.7,128.1 883.6,128.3 884.1,128.5" style="stroke-width:1.68"/>
<path class="t" d="M885.1,120.6 L886.3,127.8 M887.4,119.9 L888.7,126.9 M889.7,119.2 L891.0,126.0 M892.1,118.4 L893.4,125.3 M894.4,117.7 L895.7,124.4 M896.8,117.0 L898.1,123.7"/>
<path class="o" d="M905.8,112.3 C905.8,110.3 906.3,109.4 907.6,108.3 C909.0,107.3 912.1,106.0 913.9,106.2 C915.8,106.3 917.7,107.7 918.8,109.2 C919.9,110.8 920.8,113.6 920.6,115.6 C920.4,117.5 919.1,119.7 917.5,121.0 C916.0,122.2 913.2,123.2 911.6,123.1 C909.9,123.1 908.6,122.4 907.6,120.6 C906.7,118.8 905.8,114.3 905.8,112.3 Z" style="stroke-width:1.80"/>
<path class="l" d="M909.4,109.2 C909.9,109.8 911.5,111.3 912.1,112.8 C912.7,114.3 913.1,116.6 913.0,118.3 C912.9,119.9 911.8,122.0 911.6,122.8"/>
<g transform="translate(664.4,301.1) rotate(-22.6)"><ellipse cx="434.0" cy="1.2" rx="5.0" ry="10.0" fill="#fff" stroke="#000" stroke-width="2.04"/>
<ellipse cx="433.5" cy="1.2" rx="3.4" ry="6.8" fill="none" stroke="#000" stroke-width="1.44"/>
<path d="M401.0,-6.0 L432.0,-6.0 L432.0,7.0 L401.0,7.0 A2.6,6.5 0 0 1 401.0,-6.0 Z" fill="#fff" stroke="none"/>
<path d="M401.0,-6.0 L432.0,-6.0 M401.0,7.0 L432.0,7.0" fill="none" stroke="#000" stroke-width="1.56" stroke-linecap="round"/>
<path d="M402.0,-5.9 L431.0,-5.9 M402.0,-4.7 L431.0,-4.7 M402.0,-2.4 L431.0,-2.4 M402.0,0.5 L431.0,0.5 M402.0,3.4 L431.0,3.4 M402.0,5.7 L431.0,5.7 M402.0,6.9 L431.0,6.9 " fill="none" stroke="#000" stroke-width="1.50"/>
<path d="M395.0,-8.4 L401.0,-8.4 L401.0,9.2 L395.0,9.2 A3.1,8.8 0 0 1 395.0,-8.4 Z" fill="#fff" stroke="none"/>
<path d="M395.0,-8.4 L401.0,-8.4 M395.0,9.2 L401.0,9.2" fill="none" stroke="#000" stroke-width="1.68" stroke-linecap="round"/>
<ellipse cx="395.0" cy="0.4" rx="3.1" ry="8.8" fill="#fff" stroke="#000" stroke-width="1.68"/>
<path d="M390.0,-8.4 L396.0,-8.4 L396.0,9.2 L390.0,9.2 A3.1,8.8 0 0 1 390.0,-8.4 Z" fill="#fff" stroke="none"/>
<path d="M390.0,-8.4 L396.0,-8.4 M390.0,9.2 L396.0,9.2" fill="none" stroke="#000" stroke-width="1.68" stroke-linecap="round"/>
<ellipse cx="390.0" cy="0.4" rx="3.1" ry="8.8" fill="#fff" stroke="#000" stroke-width="1.68"/>
<path d="M370.0,-7.7 L391.0,-7.7 L391.0,8.3 L370.0,8.3 A3.2,8.0 0 0 1 370.0,-7.7 Z" fill="#fff" stroke="none"/>
<path d="M370.0,-7.7 L391.0,-7.7 M370.0,8.3 L391.0,8.3" fill="none" stroke="#000" stroke-width="1.92" stroke-linecap="round"/>
<ellipse cx="370.0" cy="0.3" rx="3.2" ry="8.0" fill="#fff" stroke="#000" stroke-width="1.92"/>
<ellipse cx="370.5" cy="0.6" rx="1.8" ry="4.6" fill="none" stroke="#000" stroke-width="1.56"/>
<path d="M383.0,-7.7 A3.2,8.0 0 0 0 383.0,8.3" fill="none" stroke="#000" stroke-width="1.44"/>
<path d="M303.0,-10.9 L357.0,-10.9 A5.5,11.0 0 0 1 357.0,11.1 L303.0,11.1 A5.5,11.0 0 0 1 303.0,-10.9 Z" fill="#fff" stroke="none"/>
<path d="M303.0,-10.9 L357.0,-10.9 M303.0,11.1 L357.0,11.1 M357.0,-10.9 A5.5,11.0 0 0 1 357.0,11.1" fill="none" stroke="#000" stroke-width="1.92" stroke-linecap="round"/>
<ellipse cx="303.0" cy="0.1" rx="5.5" ry="11.0" fill="#fff" stroke="#000" stroke-width="1.92"/>
<ellipse cx="303.5" cy="0.1" rx="4.0" ry="8.0" fill="none" stroke="#000" stroke-width="1.56"/>
<path d="M300,-4 A4,8 0 0 1 307.5,0.1 A4,6 0 0 0 300,-4 Z" fill="#000"/>
<path d="M280.5,-17.5 L291.0,-17.5 A8.5,17.0 0 0 1 291.0,16.5 L280.5,16.5 A8.5,17.0 0 0 1 280.5,-17.5 Z" fill="#fff" stroke="none"/>
<path d="M280.5,-17.5 L291.0,-17.5 M280.5,16.5 L291.0,16.5 M291.0,-17.5 A8.5,17.0 0 0 1 291.0,16.5" fill="none" stroke="#000" stroke-width="2.16" stroke-linecap="round"/>
<ellipse cx="280.5" cy="-0.5" rx="8.5" ry="17.0" fill="#fff" stroke="#000" stroke-width="2.16"/>
<ellipse cx="280.5" cy="-0.5" rx="7.2" ry="14.3" fill="none" stroke="#000" stroke-width="1.56"/>
<ellipse cx="280.5" cy="-0.5" rx="5.9" ry="11.8" fill="none" stroke="#000" stroke-width="3.84" stroke-dasharray="1.8 1.4"/>
<ellipse cx="280.5" cy="-0.5" rx="4.7" ry="9.3" fill="none" stroke="#000" stroke-width="1.92"/>
<ellipse cx="281.0" cy="-0.5" rx="3.0" ry="6.0" fill="#000" stroke="#000" stroke-width="1.20"/>
</g>
<path class="o" d="M835.2,213.8 C835.6,209.2 836.1,201.9 838.3,197.1 C840.6,192.2 844.6,187.5 848.8,184.6 C852.9,181.6 859.2,181.6 863.3,179.4 C867.5,177.1 869.2,173.1 873.8,171.0 C878.3,169.0 885.2,166.8 890.4,166.9 C895.6,167.0 900.8,168.7 905.0,171.7 C909.2,174.6 912.4,179.3 915.4,184.6 C918.5,189.9 921.9,196.7 923.3,203.3 C924.8,209.9 925.5,218.6 924.2,224.2 C922.8,229.7 918.6,234.1 915.4,236.7 C912.2,239.3 908.1,238.8 905.0,239.8 C901.9,240.8 900.1,241.2 896.7,242.9 C893.2,244.7 889.0,248.4 884.2,250.2 C879.3,252.0 872.7,253.9 867.5,253.8 C862.3,253.6 857.3,252.0 852.9,249.2 C848.6,246.3 844.3,240.8 841.5,236.7 C838.6,232.5 836.9,228.0 835.8,224.2 C834.8,220.3 834.8,218.3 835.2,213.8 Z" style="stroke-width:2.16"/>
<path class="f" d="M863.3,179.4 C865.8,180.6 873.8,183.0 877.9,186.7 C882.0,190.3 886.0,196.0 887.9,201.2 C889.8,206.5 890.0,212.0 889.2,217.9 C888.4,223.8 886.7,230.7 883.1,236.7 C879.5,242.6 870.1,250.9 867.5,253.8" style="stroke-width:1.68"/>
<path class="l" d="M865.8,180.4 C868.2,181.8 875.9,184.8 880.0,188.8 C884.1,192.7 888.5,199.0 890.4,204.4 C892.3,209.8 892.1,215.3 891.2,221.0 C890.4,226.8 888.5,233.4 885.2,238.8 C881.9,244.1 873.9,250.6 871.7,252.9"/>
<ellipse class="f" cx="864.0" cy="216.9" rx="20.8" ry="30.8" transform="rotate(8 864.0 216.9)" style="stroke-width:1.68"/>
<ellipse class="f" cx="864.4" cy="215.8" rx="16.2" ry="24.6" transform="rotate(8 864.4 215.8)" style="stroke-width:1.56"/>
<path class="f" d="M849.8,205.4 C850.5,203.9 851.9,198.4 854.0,196.0 C856.0,193.7 859.7,191.8 862.3,191.2 C864.9,190.7 868.4,192.3 869.6,192.5" style="stroke-width:3.60"/>
<ellipse class="l" cx="865.4" cy="216.9" rx="10.8" ry="17.5" transform="rotate(8 865.4 216.9)"/>
<path class="l" d="M905.0,171.7 C906.8,174.2 913.2,181.0 915.8,186.7 C918.5,192.3 920.2,199.2 920.8,205.4 C921.5,211.7 921.1,218.8 919.6,224.2 C918.1,229.5 913.0,235.5 911.7,237.7"/>
<path class="t" d="M877.9,171.7 C879.7,172.8 885.3,174.4 888.3,178.3 C891.3,182.2 894.6,192.2 895.8,195.0"/>
<path class="l" d="M896.7,242.9 C897.7,243.2 900.8,245.2 902.9,244.6 C905.0,244.0 908.1,240.1 909.2,239.2"/>
<g transform="translate(664.4,301.1) rotate(-22.6)">
<ellipse cx="216.0" cy="-0.4" rx="7.5" ry="15.0" fill="#fff" stroke="#000" stroke-width="1.80"/>
<ellipse cx="217.0" cy="-0.4" rx="5.4" ry="10.8" fill="none" stroke="#000" stroke-width="1.32"/>
<path d="M197.0,-10.9 L218.0,-10.9 L218.0,10.1 L197.0,10.1 A4.2,10.5 0 0 1 197.0,-10.9 Z" fill="#fff" stroke="none"/>
<path d="M197.0,-10.9 L218.0,-10.9 M197.0,10.1 L218.0,10.1" fill="none" stroke="#000" stroke-width="1.80" stroke-linecap="round"/>
<path d="M191.0,-11.2 L198.0,-11.2 A4.7,11.8 0 0 1 198.0,12.4 L191.0,12.4 A4.7,11.8 0 0 1 191.0,-11.2 Z" fill="#fff" stroke="none"/>
<path d="M191.0,-11.2 L198.0,-11.2 M191.0,12.4 L198.0,12.4 M198.0,-11.2 A4.7,11.8 0 0 1 198.0,12.4" fill="none" stroke="#000" stroke-width="1.68" stroke-linecap="round"/>
<path d="M177.0,-12.2 A5.6,14.0 0 0 1 177.0,15.8 L188.5,15.8 A5.6,14.0 0 0 0 188.5,-12.2 Z" fill="#fff" stroke="none"/>
<path d="M177.6,-12.1 L189.1,-12.1 M176.8,-10.9 L190.8,-10.9 M180.8,-8.4 L192.3,-8.4 M179.4,-4.8 L193.4,-4.8 M182.5,-0.5 L194.0,-0.5 M180.0,4.1 L194.0,4.1 M181.9,8.4 L193.4,8.4 M178.3,12.0 L192.3,12.0 M179.3,14.5 L190.8,14.5 M175.1,15.7 L189.1,15.7 " fill="none" stroke="#000" stroke-width="2.76" stroke-linecap="butt"/>
<path d="M188.5,-12.2 A5.6,14.0 0 0 1 188.5,15.8" fill="none" stroke="#000" stroke-width="1.44"/>
<path d="M149.5,-17.6 A7.6,19.0 0 0 1 149.5,20.4 L160.5,20.4 A7.6,19.0 0 0 0 160.5,-17.6 Z" fill="#fff" stroke="none"/>
<path d="M150.3,-17.5 L161.3,-17.5 M152.1,-16.5 L163.1,-16.5 M153.7,-14.4 L164.7,-14.4 M155.1,-11.3 L166.1,-11.3 M156.2,-7.5 L167.2,-7.5 M156.9,-3.2 L167.9,-3.2 M157.1,1.4 L168.1,1.4 M156.9,6.0 L167.9,6.0 M156.2,10.3 L167.2,10.3 M155.1,14.1 L166.1,14.1 M153.7,17.2 L164.7,17.2 M152.1,19.3 L163.1,19.3 M150.3,20.3 L161.3,20.3 " fill="none" stroke="#000" stroke-width="2.88" stroke-linecap="butt"/>
<path d="M160.5,-17.6 A7.6,19.0 0 0 1 160.5,20.4" fill="none" stroke="#000" stroke-width="1.44"/>
<path d="M149.5,-17.6 A7.6,19.0 0 0 1 149.5,20.4" fill="none" stroke="#000" stroke-width="1.20"/>
<path d="M133.0,-15.0 L152.0,-15.0 L152.0,17.0 L133.0,17.0 A5.6,16.0 0 0 1 133.0,-15.0 Z" fill="#fff" stroke="none"/>
<path d="M133.0,-15.0 L152.0,-15.0 M133.0,17.0 L152.0,17.0" fill="none" stroke="#000" stroke-width="1.92" stroke-linecap="round"/>
<path d="M130.0,-18.9 L137.0,-18.9 L137.0,18.1 L130.0,18.1 A6.1,18.5 0 0 1 130.0,-18.9 Z" fill="#fff" stroke="none"/>
<path d="M130.0,-18.9 L137.0,-18.9 M130.0,18.1 L137.0,18.1" fill="none" stroke="#000" stroke-width="1.80" stroke-linecap="round"/>
<path d="M123.5,-20.9 L130.5,-20.9 L130.5,20.1 L123.5,20.1 A6.8,20.5 0 0 1 123.5,-20.9 Z" fill="#fff" stroke="none"/>
<path d="M123.5,-20.9 L130.5,-20.9 M123.5,20.1 L130.5,20.1" fill="none" stroke="#000" stroke-width="1.80" stroke-linecap="round"/>
<path d="M117.0,-21.2 L124.0,-21.2 L124.0,20.4 L117.0,20.4 A6.9,20.8 0 0 1 117.0,-21.2 Z" fill="#fff" stroke="none"/>
<path d="M117.0,-21.2 L124.0,-21.2 M117.0,20.4 L124.0,20.4" fill="none" stroke="#000" stroke-width="1.80" stroke-linecap="round"/>
<path d="M110.5,-20.2 L117.5,-20.2 L117.5,19.4 L110.5,19.4 A6.5,19.8 0 0 1 110.5,-20.2 Z" fill="#fff" stroke="none"/>
<path d="M110.5,-20.2 L117.5,-20.2 M110.5,19.4 L117.5,19.4" fill="none" stroke="#000" stroke-width="1.80" stroke-linecap="round"/>
<path d="M104.5,-17.4 L111.5,-17.4 L111.5,16.6 L104.5,16.6 A5.6,17.0 0 0 1 104.5,-17.4 Z" fill="#fff" stroke="none"/>
<path d="M104.5,-17.4 L111.5,-17.4 M104.5,16.6 L111.5,16.6" fill="none" stroke="#000" stroke-width="1.80" stroke-linecap="round"/>
<path d="M130.0,-18.9 A6.1,18.5 0 0 0 130.0,18.1" fill="none" stroke="#000" stroke-width="1.92"/>
<path d="M132.4,-18.9 A6.1,18.5 0 0 0 132.4,18.1" fill="none" stroke="#000" stroke-width="1.20"/>
<path d="M123.5,-20.9 A6.8,20.5 0 0 0 123.5,20.1" fill="none" stroke="#000" stroke-width="1.92"/>
<path d="M125.9,-20.9 A6.8,20.5 0 0 0 125.9,20.1" fill="none" stroke="#000" stroke-width="1.20"/>
<path d="M117.0,-21.2 A6.9,20.8 0 0 0 117.0,20.4" fill="none" stroke="#000" stroke-width="1.92"/>
<path d="M119.4,-21.2 A6.9,20.8 0 0 0 119.4,20.4" fill="none" stroke="#000" stroke-width="1.20"/>
<path d="M110.5,-20.2 A6.5,19.8 0 0 0 110.5,19.4" fill="none" stroke="#000" stroke-width="1.92"/>
<path d="M112.9,-20.2 A6.5,19.8 0 0 0 112.9,19.4" fill="none" stroke="#000" stroke-width="1.20"/>
<path d="M104.5,-17.4 A5.6,17.0 0 0 0 104.5,16.6" fill="none" stroke="#000" stroke-width="1.92"/>
<path d="M106.9,-17.4 A5.6,17.0 0 0 0 106.9,16.6" fill="none" stroke="#000" stroke-width="1.20"/>
<path d="M51.0,-14.2 L104.0,-14.2 L104.0,13.4 L51.0,13.4 A4.1,13.8 0 0 1 51.0,-14.2 Z" fill="#fff" stroke="none"/>
<path d="M51.0,-14.2 L104.0,-14.2 M51.0,13.4 L104.0,13.4" fill="none" stroke="#000" stroke-width="1.68" stroke-linecap="round"/>
<ellipse cx="51.0" cy="-0.4" rx="4.1" ry="13.8" fill="#fff" stroke="#000" stroke-width="1.68"/>
<path d="M50.3,-14.0 L102.3,-14.0 M48.9,-12.4 L100.9,-12.4 M47.8,-9.3 L99.8,-9.3 M47.1,-5.1 L99.1,-5.1 M46.9,-0.4 L98.9,-0.4 M47.1,4.3 L99.1,4.3 M47.8,8.5 L99.8,8.5 M48.9,11.6 L100.9,11.6 M50.3,13.2 L102.3,13.2 " fill="none" stroke="#000" stroke-width="2.94"/>
<ellipse cx="51.0" cy="-0.4" rx="3.3" ry="11.0" fill="#fff" stroke="#000" stroke-width="1.20"/>
<path d="M44.0,-10.0 L53.0,-10.0 L53.0,10.0 L44.0,10.0 A3.0,10.0 0 0 1 44.0,-10.0 Z" fill="#fff" stroke="none"/>
<path d="M44.0,-10.0 L53.0,-10.0 M44.0,10.0 L53.0,10.0" fill="none" stroke="#000" stroke-width="1.68" stroke-linecap="round"/>
<ellipse cx="44.0" cy="0.0" rx="3.0" ry="10.0" fill="#fff" stroke="#000" stroke-width="1.68"/>
<path d="M37.0,-9.6 L45.0,-9.6 L45.0,9.6 L37.0,9.6 A2.9,9.6 0 0 1 37.0,-9.6 Z" fill="#fff" stroke="none"/>
<path d="M37.0,-9.6 L45.0,-9.6 M37.0,9.6 L45.0,9.6" fill="none" stroke="#000" stroke-width="1.68" stroke-linecap="round"/>
<ellipse cx="37.0" cy="0.0" rx="2.9" ry="9.6" fill="#fff" stroke="#000" stroke-width="1.68"/>
<path d="M30.0,-9.6 L38.0,-9.6 L38.0,9.6 L30.0,9.6 A2.9,9.6 0 0 1 30.0,-9.6 Z" fill="#fff" stroke="none"/>
<path d="M30.0,-9.6 L38.0,-9.6 M30.0,9.6 L38.0,9.6" fill="none" stroke="#000" stroke-width="1.68" stroke-linecap="round"/>
<ellipse cx="30.0" cy="0.0" rx="2.9" ry="9.6" fill="#fff" stroke="#000" stroke-width="1.68"/>
<path d="M33.0,-9.6 A2.9,9.6 0 0 0 33.0,9.6" fill="none" stroke="#000" stroke-width="1.08"/>
<path d="M-32.0,-6.3 L31.0,-6.3 L31.0,6.3 L-32.0,6.3 A2.2,6.3 0 0 1 -32.0,-6.3 Z" fill="#fff" stroke="none"/>
<path d="M-32.0,-6.3 L31.0,-6.3 M-32.0,6.3 L31.0,6.3" fill="none" stroke="#000" stroke-width="2.04" stroke-linecap="round"/>
<path d="M-66.0,-8.1 L-31.0,-8.1 A2.7,9.0 0 0 1 -31.0,9.9 L-66.0,9.9 A2.7,9.0 0 0 1 -66.0,-8.1 Z" fill="#fff" stroke="none"/>
<path d="M-66.0,-8.1 L-31.0,-8.1 M-66.0,9.9 L-31.0,9.9 M-31.0,-8.1 A2.7,9.0 0 0 1 -31.0,9.9" fill="none" stroke="#000" stroke-width="1.56" stroke-linecap="round"/>
<path d="M-66.0,-8.0 L-31.0,-8.0 M-66.0,-6.7 L-31.0,-6.7 M-66.0,-4.2 L-31.0,-4.2 M-66.0,-0.9 L-31.0,-0.9 M-66.0,2.7 L-31.0,2.7 M-66.0,6.0 L-31.0,6.0 M-66.0,8.5 L-31.0,8.5 M-66.0,9.8 L-31.0,9.8 " fill="none" stroke="#000" stroke-width="2.22"/></g>
<path class="o" d="M941.7,323.6 L968.8,308.0 L975.0,308.0 L982.3,313.2 L985.9,321.0 L985.4,328.3 L957.3,349.2 L943.8,353.3 L931.2,336.7 Z" style="stroke:none"/>
<path class="f" d="M941.7,323.6 L954.2,317.4"/>
<path class="f" d="M968.8,308.0 L975.0,308.0"/>
<path class="f" d="M975.0,308.0 C976.2,308.8 980.5,310.7 982.3,312.9 C984.1,315.1 985.4,318.4 985.9,321.0 C986.5,323.6 985.5,327.3 985.4,328.5"/>
<path class="f" d="M985.4,328.5 L957.3,349.2"/>
<path class="o" d="M920.8,330.6 C921.9,329.7 924.7,326.1 927.1,324.9 C929.5,323.6 932.5,322.7 935.4,323.1 C938.4,323.5 942.0,325.0 944.8,327.3 C947.6,329.5 950.3,333.4 952.1,336.7 C953.8,340.0 954.9,343.9 955.2,347.1 C955.6,350.3 955.2,353.5 954.2,355.9 C953.1,358.4 951.0,360.6 949.0,361.9 C946.9,363.2 943.5,363.8 941.7,363.8 C939.8,363.7 938.6,362.0 938.0,361.7" style="stroke-width:2.28"/>
<path class="l" d="M945.8,329.4 C946.8,331.1 950.6,336.5 951.9,339.8 C953.2,343.1 953.5,346.5 953.5,349.2 C953.6,351.9 952.3,354.8 952.1,355.9"/>
<path class="o" d="M913.5,340.0 L921.9,333.8 L934.4,336.1 L943.8,349.2 L941.7,357.5 L934.4,363.8 L926.0,366.9 Z" style="stroke:none"/>
<path class="f" d="M911.5,340.8 C912.3,340.1 914.8,337.4 916.7,336.1 C918.5,334.9 919.4,333.5 922.4,333.5 C925.3,333.5 932.4,335.7 934.4,336.1"/>
<path class="f" d="M934.4,336.1 C935.6,337.4 940.0,341.1 941.7,344.0 C943.3,346.8 944.4,350.6 944.3,353.3 C944.1,356.0 942.8,358.0 940.6,360.1 C938.5,362.2 932.8,364.9 931.2,365.8" style="stroke-width:1.92"/>
<path class="f" d="M930.2,333.8 C931.4,334.8 935.6,337.2 937.5,339.8 C939.4,342.4 941.1,346.6 941.7,349.2 C942.3,351.8 941.2,354.4 941.1,355.4" style="stroke-width:1.80"/>
<ellipse class="l" cx="933.1" cy="329.9" rx="2.3" ry="1.7" transform="rotate(0 933.1 329.9)"/>
<path class="f" d="M933.1,331.5 L934.4,335.1"/>
<ellipse class="o" cx="920.8" cy="353.5" rx="10.4" ry="13.8" transform="rotate(-20 920.8 353.5)" style="stroke-width:2.16"/>
<ellipse class="f" cx="921.4" cy="353.9" rx="8.3" ry="11.5" transform="rotate(-20 921.4 353.9)" style="stroke-width:1.56"/>
<ellipse class="f" cx="921.9" cy="354.4" rx="6.2" ry="9.2" transform="rotate(-20 921.9 354.4)" style="stroke-width:1.80"/>
<ellipse class="f" cx="922.7" cy="355.2" rx="3.8" ry="6.2" transform="rotate(-20 922.7 355.2)" style="stroke-width:2.64"/>
<path class="o" d="M956.2,316.4 L963.5,312.2 L965.1,314.8 L957.8,319.2 Z" style="stroke-width:1.80"/>
<path class="o" d="M963.5,310.6 C963.9,309.5 965.9,309.2 966.7,309.6 C967.4,309.9 968.1,311.7 968.2,312.7 C968.3,313.8 967.8,315.2 967.2,315.8 C966.6,316.4 965.2,317.2 964.6,316.4 C964.0,315.5 963.2,311.8 963.5,310.6 Z" style="stroke-width:1.92"/>
<path class="f" d="M956.2,316.4 C956.1,316.6 955.2,317.4 955.2,317.9 C955.2,318.4 955.8,319.3 956.2,319.5 C956.7,319.7 957.6,319.2 957.8,319.2" style="stroke-width:1.80"/>
<path class="l" d="M964.1,308.8 L964.1,305.0"/>
<path class="o" d="M852.5,344.8 C853.1,342.9 853.8,343.0 857.2,340.6 C860.6,338.2 868.4,332.6 873.1,330.3 C877.8,328.1 882.7,328.2 885.3,327.1 C888.0,326.1 887.7,324.7 889.1,324.1 C890.5,323.6 892.3,323.2 893.8,323.8 C895.2,324.3 896.6,325.7 897.9,327.5 C899.1,329.3 898.8,332.0 901.3,334.6 C903.7,337.3 909.4,338.8 912.5,343.4 C915.6,348.0 917.4,358.4 919.6,362.2 C921.9,365.9 924.4,364.2 926.0,365.9 C927.6,367.7 928.9,369.4 929.4,372.5 C929.8,375.6 929.1,379.4 928.8,384.7 C928.5,390.0 928.4,400.2 927.5,404.4 C926.6,408.6 926.2,408.4 923.4,410.0 C920.6,411.6 914.9,412.9 910.6,413.8 C906.4,414.6 900.8,414.5 897.9,415.3 C894.9,416.0 894.6,418.1 892.8,418.4 C891.0,418.8 888.6,418.4 887.2,417.5 C885.8,416.6 884.5,414.5 884.4,412.8 C884.2,411.1 887.8,408.9 886.3,407.2 C884.7,405.5 878.1,404.5 875.0,402.5 C871.9,400.5 870.9,401.3 867.5,395.0 C864.1,388.8 855.9,371.6 854.4,365.0 C852.8,358.4 858.3,357.8 858.1,355.6 C858.0,353.4 854.4,353.7 853.4,351.9 C852.5,350.1 851.9,346.6 852.5,344.8 Z" style="stroke-width:2.04"/>
<path class="f" d="M863.8,351.9 C866.1,349.8 873.0,341.8 877.8,339.7 C882.7,337.6 887.8,336.9 892.8,339.1 C897.8,341.3 903.8,346.9 907.8,352.8 C911.8,358.7 915.0,367.3 916.6,374.4 C918.2,381.4 918.4,389.8 917.4,395.0 C916.4,400.2 911.8,403.6 910.6,405.3" style="stroke-width:1.68"/>
<path class="t" d="M861.9,354.7 C864.4,352.7 871.9,344.8 876.9,342.9 C881.9,340.9 887.2,340.8 891.9,342.9 C896.6,345.0 901.4,350.2 905.0,355.6 C908.6,361.0 911.9,368.9 913.4,375.3 C915.0,381.7 915.2,389.3 914.4,394.1 C913.5,398.8 909.4,402.3 908.4,404.0"/>
<path class="f" d="M858.1,355.6 C857.7,357.0 857.7,360.5 855.3,364.1 C853.0,367.7 845.9,375.0 844.1,377.2"/>
<path class="f" d="M873.1,403.4 C875.3,403.7 880.3,404.7 886.3,404.8 C892.2,404.8 905.0,404.1 908.8,404.0"/>
<path class="l" d="M868.4,354.7 C871.3,355.2 880.8,354.4 885.3,357.5 C889.8,360.6 893.5,367.8 895.3,373.4 C897.0,379.1 897.3,386.3 896.0,391.3 C894.7,396.2 888.7,400.9 887.2,402.9"/>
<ellipse class="l" cx="890.4" cy="330.3" rx="1.9" ry="2.6" transform="rotate(0 890.4 330.3)"/>
<ellipse class="l" cx="855.9" cy="347.2" rx="1.9" ry="2.6" transform="rotate(0 855.9 347.2)"/>
<ellipse class="l" cx="922.3" cy="371.0" rx="1.9" ry="2.6" transform="rotate(0 922.3 371.0)"/>
<ellipse class="l" cx="919.6" cy="404.8" rx="1.9" ry="2.6" transform="rotate(0 919.6 404.8)"/>
<ellipse class="l" cx="889.6" cy="412.3" rx="1.9" ry="2.6" transform="rotate(0 889.6 412.3)"/>
<ellipse class="o" cx="857.2" cy="389.4" rx="14.6" ry="19.1" transform="rotate(-15 857.2 389.4)" style="stroke-width:2.16"/>
<ellipse class="f" cx="858.1" cy="389.0" rx="10.9" ry="15.8" transform="rotate(-15 858.1 389.0)" style="stroke-width:1.68"/>
<ellipse class="l" cx="860.9" cy="387.5" rx="8.4" ry="13.5" transform="rotate(-15 860.9 387.5)"/>
<path class="o" d="M939.7,390.9 L950.0,385.3 L952.3,389.0 L941.8,395.0 Z" style="stroke-width:1.56"/>
<path class="t" d="M941.8,390.1 L943.6,393.7 M943.8,389.0 L945.7,392.6 M945.9,387.9 L947.8,391.4"/>
<path class="o" d="M948.5,383.4 C949.2,382.2 950.6,380.6 951.9,380.4 C953.1,380.1 955.2,380.9 956.0,381.9 C956.8,382.8 957.1,384.6 956.8,386.0 C956.4,387.4 955.3,389.5 954.1,390.3 C953.0,391.1 951.1,391.3 950.0,390.9 C948.9,390.4 948.0,388.8 947.8,387.5 C947.5,386.3 947.8,384.6 948.5,383.4 Z" style="stroke-width:1.80"/>
<ellipse class="o" cx="933.1" cy="397.3" rx="5.1" ry="6.2" transform="rotate(-20 933.1 397.3)" style="stroke-width:2.40"/>
<ellipse class="l" cx="933.1" cy="397.3" rx="2.3" ry="3.0" transform="rotate(-20 933.1 397.3)"/>
<path class="o" d="M830.0,392.5 L846.2,385.6 L856.9,405.0 L842.5,412.5 Z" style="stroke:none"/>
<path class="f" d="M830.0,392.5 L846.2,385.6"/>
<path class="f" d="M842.5,412.5 L855.2,406.2"/>
<ellipse class="o" cx="835.6" cy="402.2" rx="5.8" ry="10.0" transform="rotate(-18 835.6 402.2)" style="stroke-width:1.92"/>
<ellipse class="k" cx="836.5" cy="402.2" rx="4.0" ry="7.8" transform="rotate(-18 836.5 402.2)"/>
<ellipse class="o" cx="837.5" cy="401.9" rx="2.2" ry="5.2" transform="rotate(-18 837.5 401.9)" style="stroke:none"/>
<ellipse class="l" cx="837.5" cy="401.9" rx="2.2" ry="5.2" transform="rotate(-18 837.5 401.9)"/>
<path class="f" d="M810.2,401.9 C810.9,400.8 812.2,397.0 814.4,395.6 C816.5,394.2 820.2,393.0 823.1,393.5 C826.0,394.0 829.6,396.0 831.9,398.8 C834.2,401.5 836.0,406.2 836.9,410.0 C837.7,413.8 837.5,418.1 836.9,421.2 C836.2,424.4 834.4,427.8 833.1,429.0 C831.9,430.2 830.1,429.1 829.4,428.5 C828.7,427.9 829.1,425.8 829.0,425.2" style="stroke-width:2.04"/>
<path class="f" d="M813.1,402.5 C813.6,401.8 814.6,399.4 816.2,398.5 C817.9,397.6 820.8,396.4 823.1,396.9 C825.4,397.3 828.2,399.0 830.0,401.2 C831.8,403.5 833.3,407.5 834.0,410.6 C834.7,413.8 834.4,417.6 834.0,420.0 C833.6,422.4 832.7,424.1 831.9,425.0 C831.0,425.9 829.5,425.2 829.0,425.2" style="stroke-width:1.80"/>
<path class="o" d="M802.5,403.5 L815.0,401.2 L823.8,408.8 L826.5,421.2 L822.8,430.0 L817.5,434.4 L806.2,440.0 Z" style="stroke:none"/>
<path class="f" d="M801.2,404.0 L815.0,401.2"/>
<path class="f" d="M815.0,401.2 C816.4,402.5 821.6,405.3 823.5,408.5 C825.4,411.7 826.6,417.0 826.5,420.6 C826.4,424.2 824.2,427.7 822.8,430.0 C821.2,432.3 818.4,433.6 817.5,434.4"/>
<path class="f" d="M817.5,434.4 L808.1,439.4"/>
<ellipse class="o" cx="805.2" cy="423.8" rx="11.0" ry="16.5" transform="rotate(-15 805.2 423.8)" style="stroke-width:2.16"/>
<ellipse class="f" cx="805.6" cy="423.8" rx="9.0" ry="14.0" transform="rotate(-15 805.6 423.8)" style="stroke-width:1.44"/>
<ellipse class="f" cx="806.0" cy="423.8" rx="7.1" ry="11.2" transform="rotate(-15 806.0 423.8)" style="stroke-width:2.76;stroke-dasharray:2.2 2.2"/>
<ellipse class="o" cx="806.5" cy="423.8" rx="5.2" ry="8.8" transform="rotate(-15 806.5 423.8)" style="stroke-width:1.80"/>
<ellipse class="f" cx="807.0" cy="423.8" rx="3.5" ry="6.2" transform="rotate(-15 807.0 423.8)" style="stroke-width:1.44"/>
<path class="f" d="M788.1,445.0 C787.2,444.5 784.3,443.8 782.5,441.9 C780.7,440.0 778.6,436.6 777.5,433.8 C776.4,430.9 775.9,427.9 776.0,425.0 C776.1,422.1 776.8,418.5 778.1,416.2 C779.4,414.0 781.7,412.3 783.8,411.2 C785.8,410.2 788.2,409.5 790.6,410.0 C793.0,410.5 795.9,412.1 798.1,414.4 C800.3,416.7 802.5,420.5 803.8,423.8 C805.0,427.0 805.7,430.6 805.6,433.8 C805.5,436.9 804.5,440.2 803.1,442.5 C801.8,444.8 799.3,446.6 797.5,447.5 C795.7,448.4 793.4,448.3 792.5,447.8 C791.6,447.2 792.0,444.9 791.9,444.4" style="stroke-width:2.16"/>
<path class="f" d="M789.4,441.9 C788.5,441.5 785.9,440.9 784.4,439.4 C782.9,437.8 781.1,434.9 780.2,432.5 C779.4,430.1 778.9,427.4 779.0,425.0 C779.1,422.6 779.8,420.0 780.8,418.1 C781.8,416.3 783.4,414.8 785.0,414.0 C786.6,413.2 788.7,412.6 790.6,413.1 C792.5,413.6 794.8,415.0 796.5,416.9 C798.2,418.8 800.0,421.7 801.0,424.4 C802.0,427.1 802.6,430.5 802.5,433.1 C802.4,435.7 801.5,438.2 800.5,440.0 C799.5,441.8 797.5,443.4 796.2,444.0 C795.0,444.6 793.6,443.6 793.1,443.5" style="stroke-width:1.92"/>
<path class="f" d="M788.1,445.0 L789.4,441.9"/>
<path class="f" d="M791.9,444.4 L793.1,443.5"/>
<path class="o" d="M741.6,408.4 L759.6,415.9 L757.8,423.4 L739.8,415.0 Z" style="stroke-width:1.68"/>
<path class="t" d="M743.5,409.4 L742.0,415.6 M745.8,410.3 L744.3,416.7 M748.0,411.3 L746.5,417.6 M750.3,412.2 L748.8,418.8 M752.5,413.1 L751.0,419.7 M754.8,414.1 L753.3,420.6" style="stroke-width:1.32"/>
<path class="o" d="M759.6,413.5 C760.8,411.8 762.8,411.9 764.7,412.2 C766.6,412.4 769.8,413.6 771.3,415.0 C772.7,416.4 773.7,418.6 773.5,420.6 C773.3,422.7 771.8,425.6 770.3,427.2 C768.8,428.8 766.5,430.3 764.7,430.4 C762.9,430.5 760.8,429.1 759.6,427.8 C758.5,426.4 757.8,424.5 757.8,422.1 C757.8,419.8 758.5,415.2 759.6,413.5 Z" style="stroke-width:1.92"/>
<path class="l" d="M765.6,412.8 C765.3,413.8 763.5,416.3 763.4,419.1 C763.2,422.0 764.5,428.2 764.7,430.0"/>
<ellipse class="o" cx="731.5" cy="405.6" rx="6.8" ry="8.6" transform="rotate(15 731.5 405.6)" style="stroke-width:2.64"/>
<ellipse class="l" cx="731.9" cy="405.6" rx="3.4" ry="5.4" transform="rotate(15 731.9 405.6)" style="stroke-width:1.68"/>
<path class="o" d="M622.2,452.8 C622.6,446.1 623.5,439.1 625.6,432.8 C627.6,426.5 630.7,420.6 634.4,415.0 C638.1,409.4 642.6,403.9 647.8,399.4 C653.0,395.0 659.6,390.9 665.6,388.3 C671.5,385.8 677.8,384.5 683.3,384.3 C688.9,384.1 693.7,385.3 698.9,387.2 C704.1,389.2 709.6,391.9 714.4,396.1 C719.3,400.4 724.4,406.7 727.8,412.8 C731.1,418.9 733.1,426.1 734.4,432.8 C735.7,439.4 736.1,445.7 735.6,452.8 C735.0,459.8 733.9,467.2 731.1,475.0 C728.3,482.8 723.9,492.4 718.9,499.4 C713.9,506.5 707.4,512.7 701.1,517.2 C694.8,521.7 687.4,525.1 681.1,526.6 C674.8,528.0 669.6,527.6 663.3,525.7 C657.0,523.7 648.9,520.1 643.3,515.0 C637.8,509.9 633.3,502.0 630.0,495.0 C626.7,488.0 624.6,479.8 623.3,472.8 C622.0,465.7 621.9,459.4 622.2,452.8 Z" style="stroke-width:2.28"/>
<path class="f" d="M698.9,387.7 C695.6,388.5 685.0,390.2 678.9,392.8 C672.8,395.4 667.6,398.5 662.2,403.2 C656.9,407.9 651.0,414.6 646.7,421.0 C642.3,427.4 638.4,434.5 636.2,441.7 C634.0,448.8 633.6,457.6 633.3,463.9 C633.1,470.2 633.8,474.1 634.9,479.4 C636.0,484.8 637.3,490.3 640.0,496.1 C642.7,502.0 646.9,509.7 651.1,514.6 C655.4,519.4 663.1,523.4 665.6,525.2" style="stroke-width:1.80"/>
<path class="f" style="stroke-width:1.80" d="M711.1,397.2 a3,3.3 0 1 0 0.8,5"/>
<path class="f" style="stroke-width:1.80" d="M660.0,427.9 a3,3.3 0 1 0 0.8,5"/>
<path class="f" style="stroke-width:1.80" d="M727.3,442.1 a3,3.3 0 1 0 0.8,5"/>
<path class="f" style="stroke-width:1.80" d="M642.9,477.2 a3,3.3 0 1 0 0.8,5"/>
<path class="f" style="stroke-width:1.80" d="M707.3,491.7 a3,3.3 0 1 0 0.8,5"/>
<path class="f" style="stroke-width:1.80" d="M660.7,513.2 a3,3.3 0 1 0 0.8,5"/>
<ellipse class="o" cx="684.4" cy="457.2" rx="8.9" ry="11.1" transform="rotate(15 684.4 457.2)" style="stroke-width:1.92"/>
<ellipse class="k" cx="685.1" cy="457.7" rx="5.8" ry="8.0" transform="rotate(15 685.1 457.7)"/>
<ellipse class="o" cx="686.7" cy="459.4" rx="2.2" ry="3.6" transform="rotate(15 686.7 459.4)" style="stroke:none"/>
<ellipse class="o" cx="697.1" cy="466.1" rx="8.9" ry="12.4" transform="rotate(15 697.1 466.1)" style="stroke-width:2.64"/>
<ellipse class="o" cx="697.6" cy="466.1" rx="4.9" ry="8.0" transform="rotate(15 697.6 466.1)" style="stroke-width:1.56"/>
<path class="o" d="M702.2,462.8 L714.4,465.0 L714.4,479.4 L704.4,475.0 Z" style="stroke-width:1.56"/>
<ellipse class="k" cx="706.0" cy="469.4" rx="3.1" ry="6.7" transform="rotate(15 706.0 469.4)"/>
<ellipse class="o" cx="716.2" cy="473.2" rx="8.9" ry="11.1" transform="rotate(15 716.2 473.2)" style="stroke-width:2.16"/>
<ellipse class="o" cx="717.6" cy="474.1" rx="5.8" ry="7.6" transform="rotate(15 717.6 474.1)" style="stroke-width:1.44"/>
<text x="670.4" y="436.8" font-size="8" font-style="italic" fill="#000" stroke="#000" stroke-width="0.54" transform="rotate(-27 670.4 436.8)" textLength="26" lengthAdjust="spacingAndGlyphs">HAUT</text>
<text x="676.0" y="489.4" font-size="7.5" font-style="italic" fill="#000" stroke="#000" stroke-width="0.54" transform="rotate(-27 676.0 489.4)" textLength="17" lengthAdjust="spacingAndGlyphs">BAS</text>
<path class="o" d="M362.9,274.8 C363.1,273.2 363.9,271.5 365.1,270.4 C366.3,269.4 368.4,268.6 370.0,268.5 C371.7,268.5 373.7,268.8 375.0,269.9 C376.3,270.9 377.6,273.0 378.1,274.8 C378.5,276.6 378.3,279.4 377.7,280.8 C377.1,282.3 376.0,283.2 374.4,283.6 C372.9,283.9 370.1,283.7 368.4,283.0 C366.7,282.4 364.9,281.1 364.0,279.7 C363.1,278.4 362.7,276.4 362.9,274.8 Z" style="stroke-width:2.16"/>
<path class="f" d="M365.7,276.4 C365.8,276.0 366.1,274.3 366.8,273.7 C367.4,273.1 368.7,272.7 369.5,272.9 C370.3,273.2 371.1,273.8 371.5,275.1 C371.8,276.4 371.7,279.9 371.7,280.8" style="stroke-width:1.80"/>
<path class="l" d="M368.6,276.4 L368.6,281.4"/>
<ellipse class="o" cx="383.8" cy="270.4" rx="5.7" ry="7.9" transform="rotate(-12 383.8 270.4)" style="stroke-width:2.64"/>
<ellipse class="f" cx="383.4" cy="271.0" rx="3.6" ry="5.7" transform="rotate(-12 383.4 271.0)" style="stroke-width:1.92"/>
<ellipse class="l" cx="383.2" cy="271.5" rx="2.0" ry="3.7" transform="rotate(-12 383.2 271.5)"/>
<path class="o" d="M394.2,275.3 L403.0,275.3 L403.0,286.9 L394.2,286.9 Z" style="stroke:none"/>
<path class="f" d="M394.2,275.3 L394.2,286.3"/>
<path class="f" d="M403.0,275.3 L403.0,286.3"/>
<path class="f" d="M394.2,286.3 C394.6,286.6 395.3,287.7 396.4,288.0 C397.5,288.2 399.7,288.2 400.8,288.0 C401.9,287.7 402.6,286.6 403.0,286.3"/>
<ellipse class="o" cx="398.6" cy="275.3" rx="4.4" ry="1.9" transform="rotate(0 398.6 275.3)" style="stroke-width:2.04"/>
<ellipse class="k" cx="398.6" cy="275.3" rx="2.6" ry="1.0" transform="rotate(0 398.6 275.3)"/>
<path class="l" d="M391.4,288.0 C392.0,288.4 393.1,290.1 394.7,290.7 C396.4,291.3 399.7,291.3 401.3,291.8 C403.0,292.4 404.1,293.6 404.6,294.0"/>
<path class="f" d="M395.6,259.4 L400.2,260.4 L395.8,261.5 L400.4,262.5 L395.9,263.6 L400.6,264.6 L396.1,265.7 L400.7,266.7 L396.3,267.8 L400.9,268.8 L396.4,269.9 L401.0,270.8 L396.6,271.9 L401.2,272.9" style="stroke-width:1.80"/>
<path class="o" d="M394.2,255.0 L401.3,255.0 L400.8,258.9 L395.3,258.9 Z" style="stroke-width:1.80"/>
<ellipse class="o" cx="397.7" cy="252.3" rx="8.8" ry="3.5" transform="rotate(0 397.7 252.3)" style="stroke-width:2.40"/>
<path class="o" d="M391.4,247.9 L391.4,251.2 L404.1,251.2 L404.1,247.9 Z" style="stroke:none"/>
<ellipse class="o" cx="397.7" cy="250.3" rx="6.8" ry="2.9" transform="rotate(0 397.7 250.3)" style="stroke-width:1.92"/>
<path class="f" d="M391.0,247.9 L391.0,250.3"/>
<path class="f" d="M404.5,247.9 L404.5,250.3"/>
<ellipse class="o" cx="397.7" cy="247.7" rx="6.8" ry="3.1" transform="rotate(0 397.7 247.7)" style="stroke-width:2.16"/>
<ellipse class="l" cx="397.7" cy="247.7" rx="4.4" ry="1.6" transform="rotate(0 397.7 247.7)"/>
<path class="o" d="M403.7,261.6 L420.2,256.5 L421.6,261.6 L405.7,266.8 Z" style="stroke-width:1.80"/>
<path class="o" d="M403.7,261.6 C403.5,262.0 402.3,263.0 402.2,263.8 C402.1,264.6 402.7,265.9 403.3,266.3 C403.9,266.8 405.3,266.7 405.7,266.8" style="stroke-width:1.80"/>
<path class="o" d="M420.2,253.4 C420.5,251.6 421.9,251.4 423.3,251.0 C424.6,250.5 426.8,250.1 428.2,250.7 C429.6,251.2 430.9,253.0 431.5,254.5 C432.1,256.0 432.2,258.1 431.8,259.4 C431.5,260.8 430.4,262.0 429.3,262.7 C428.1,263.5 426.2,264.0 424.9,263.8 C423.6,263.6 422.4,263.4 421.6,261.6 C420.8,259.9 419.9,255.2 420.2,253.4 Z" style="stroke-width:2.16"/>
<path class="l" d="M423.3,251.2 C423.6,251.8 425.0,253.6 425.5,255.0 C425.9,256.5 426.1,258.6 426.0,260.0 C425.9,261.4 425.1,263.0 424.9,263.6"/>
<path class="l" d="M428.2,250.9 C428.4,251.8 429.2,254.8 429.3,256.7 C429.4,258.6 429.1,261.5 429.1,262.5"/>
<path class="l" d="M403.5,269.5 L408.1,270.1"/>
<ellipse class="o" cx="476.2" cy="472.9" rx="9.6" ry="4.2" transform="rotate(0 476.2 472.9)" style="stroke-width:2.40"/>
<ellipse class="k" cx="477.1" cy="471.2" rx="5.0" ry="1.8" transform="rotate(0 477.1 471.2)"/>
<path class="o" d="M468.3,475.0 L482.9,475.0 L482.9,487.1 L468.3,487.1 Z" style="stroke:none"/>
<path class="f" d="M468.3,475.4 L468.3,486.7"/>
<path class="f" d="M482.9,475.4 L482.9,486.7"/>
<path class="f" d="M468.8,477.9 L482.5,477.9 M468.8,480.0 L482.5,480.0 M468.8,482.5 L482.5,482.5 M468.8,484.6 L482.5,484.6" style="stroke-width:1.92"/>
<ellipse class="o" cx="475.8" cy="479.2" rx="3.3" ry="2.1" transform="rotate(0 475.8 479.2)" style="stroke-width:1.68"/>
<path class="o" d="M463.8,487.1 C464.0,487.6 464.0,489.2 465.0,490.0 C466.0,490.8 467.6,491.7 470.0,492.1 C472.4,492.4 476.8,492.4 479.2,492.1 C481.5,491.7 483.1,490.8 484.2,490.0 C485.2,489.2 485.2,487.6 485.4,487.1" style="stroke-width:2.40"/>
<path class="f" d="M463.8,487.1 C464.0,486.7 464.2,485.1 465.0,484.6 C465.8,484.0 467.8,483.9 468.3,483.8"/>
<path class="f" d="M485.4,487.1 C485.2,486.7 484.8,485.3 484.3,484.8 C483.9,484.3 483.2,484.1 482.9,484.0"/>
<path class="l" d="M465.8,488.3 C466.5,488.7 467.8,490.1 470.0,490.4 C472.2,490.8 476.9,490.8 479.2,490.4 C481.5,490.1 483.0,488.7 483.8,488.3"/>
<path class="o" d="M467.9,492.9 L469.6,496.5 L479.2,496.5 L481.0,492.9" style="stroke-width:2.16"/>
</g>
<g id="leaders" class="l" style="stroke-width:1.25">
<!-- left column -->
<polyline points="218,48.4 231,48.4 389.8,247.9"/>
<polyline points="219,68 232,68 394.2,263.3"/>
<polyline points="219.5,89.3 229.5,89.3 395.9,272"/>
<polyline points="235,113.7 380,266.2"/>
<polyline points="233.7,135 356,246 367.5,269"/>
<polyline points="219.5,151.3 230,151.3 285.5,221.3"/>
<polyline points="218.7,172.5 228.7,172.5 257.5,210"/>
<polyline points="226.3,255.8 260,255.8"/>
<polyline points="215,277 230,277 310,318.7"/>
<polyline points="215,318.7 227.5,318.7 310,392.5"/>
<polyline points="215,340 228.7,340 297.5,435"/>
<polyline points="215,360.5 227.5,360.5 260,416.3"/>
<polyline points="214.5,381.7 226.3,381.7 241.3,426.3"/>
<polyline points="213.7,402 223.7,402 231.3,432.5"/>
<polyline points="212.5,528 226.3,528 241.3,496.3"/>
<polyline points="213.7,572.5 285,572.5 317.5,467.5"/>
<!-- middle column -->
<polyline points="615,84.5 595,84.5 431.3,251.9"/>
<polyline points="632.5,106 596.3,106 493.1,238.7"/>
<polyline points="617.5,125.7 596.3,125.7 431.3,361.3"/>
<polyline points="616.3,146.3 595,146.3 463.7,352.5"/>
<polyline points="633.7,166.3 593.7,166.3 462.5,392.5"/>
<polyline points="633.7,187.2 594.4,187.2 465,425"/>
<polyline points="602.8,195.6 597.2,195.6 597.2,229 602.8,229"/>
<polyline points="597.2,211.6 587.8,211.6 620,308"/>
<!-- cover -->
<polyline points="898.7,56.3 882.5,56.3 843.7,93.7"/>
<polyline points="898.7,75.3 881.3,75.3 895,117.5"/>
<!-- right column -->
<polyline points="1070,56.3 1056.3,56.3 935,172"/>
<polyline points="1070,76.5 1056.3,76.5 968,158"/>
<polyline points="1070,96.5 1053.7,96.5 1061.3,126.3"/>
<polyline points="1070,222.5 1052.5,222.5 1018.7,163.7"/>
<polyline points="1070,243 1051.3,243 925,222.5"/>
<polyline points="1070,263.5 1050,263.5 872.5,231.3"/>
<polyline points="1068,283.5 1048.7,283.5 963.7,305"/>
<polyline points="1068,304.3 1050,304.3 986.3,322.5"/>
<polyline points="1068,325.5 1052.5,325.5 960,347.5"/>
<polyline points="1068,347 1050,347 931.3,380"/>
<polyline points="1067.5,368.3 1048.7,368.3 947.5,388.5"/>
<polyline points="1067.5,389.3 1051.3,389.3 938.7,399.7"/>
<polyline points="1067.5,473 1046.3,473 848.7,412.5"/>
<polyline points="1067.5,494.2 1045,494.2 840,423.7"/>
<polyline points="1067.5,514.5 1046.3,514.5 822.5,433.7"/>
<polyline points="1067.5,536.3 1046.3,536.3 805,445"/>
<!-- bottom right-mid -->
<path d="M812.5,488.7 H793.7 Q786,470 767.5,430"/>
<polyline points="812.5,509.3 792.5,509.3 733.7,413.7"/>
<polyline points="798.7,530 792.5,530 733.7,465"/>
<polyline points="811.3,552.5 792.5,552.5 721.3,482.5"/>
<polyline points="811.3,573.3 791.3,573.3 696.3,477.5"/>
<!-- bottom mid -->
<path d="M535,483 H520 Q480,472 438.7,443.7"/>
<polyline points="535,504.5 520,504.5 484,477"/>
<polyline points="535,526.3 520,526.3 482.5,495"/>
<polyline points="535,547.5 410,547.5 337.5,460"/>
<polyline points="535,568.7 393.7,568.3 327.5,465"/>
<!-- dashed -->
<path d="M1062,128 Q1078,130 1076,142 L1070,150 L742.5,425 Q736,446 752,449 L787.5,440" stroke-dasharray="29 7.5"/>

</g>
<g id="labels" fill="#000" stroke="#000" stroke-width="0.42">
<text x="166" y="48.8" textLength="47.5" lengthAdjust="spacingAndGlyphs" font-size="14.4">44001436</text>
<text x="166" y="67.89999999999999" textLength="47.5" lengthAdjust="spacingAndGlyphs" font-size="14.4">44001435</text>
<text x="166" y="89.3" textLength="47.5" lengthAdjust="spacingAndGlyphs" font-size="14.4">44092231</text>
<text x="166" y="110.3" textLength="47.5" lengthAdjust="spacingAndGlyphs" font-size="14.4">10517170</text>
<text x="166" y="131.3" textLength="47.5" lengthAdjust="spacingAndGlyphs" font-size="14.4">44010509</text>
<text x="166" y="151.3" textLength="47.5" lengthAdjust="spacingAndGlyphs" font-size="14.4">10517070</text>
<text x="166" y="172.8" textLength="47.5" lengthAdjust="spacingAndGlyphs" font-size="14.4">15540321</text>
<text x="164.5" y="255.55" textLength="47" lengthAdjust="spacingAndGlyphs" font-size="14.4">44008720</text>
<text x="164.5" y="276.05" textLength="47" lengthAdjust="spacingAndGlyphs" font-size="14.4">10159300</text>
<text x="164.5" y="319.05" textLength="47" lengthAdjust="spacingAndGlyphs" font-size="14.4">44002965</text>
<text x="164.5" y="340.3" textLength="47" lengthAdjust="spacingAndGlyphs" font-size="14.4">11068375</text>
<text x="164.5" y="361.55" textLength="47" lengthAdjust="spacingAndGlyphs" font-size="14.4">44002969</text>
<text x="164.5" y="381.8" textLength="47" lengthAdjust="spacingAndGlyphs" font-size="14.4">10516670</text>
<text x="164.5" y="402.8" textLength="47" lengthAdjust="spacingAndGlyphs" font-size="14.4">16043621</text>
<text x="162.8" y="528.0999999999999" textLength="47" lengthAdjust="spacingAndGlyphs" font-size="14.4">44881710</text>
<text x="163" y="572.3" textLength="46" lengthAdjust="spacingAndGlyphs" font-size="14.4">28042470</text>
<text x="639.3" y="84.0" textLength="48" lengthAdjust="spacingAndGlyphs" font-size="14.4">15860121</text>
<text x="639.3" y="108.3" textLength="48" lengthAdjust="spacingAndGlyphs" font-size="14.4">44010508</text>
<text x="639.3" y="125.5" textLength="48" lengthAdjust="spacingAndGlyphs" font-size="14.4">10517070</text>
<text x="639.3" y="146.10000000000002" textLength="48" lengthAdjust="spacingAndGlyphs" font-size="14.4">11599621</text>
<text x="639.3" y="167.60000000000002" textLength="48" lengthAdjust="spacingAndGlyphs" font-size="14.4">44860019</text>
<text x="639.3" y="188.3" textLength="48" lengthAdjust="spacingAndGlyphs" font-size="14.4">44881747</text>
<text x="639.3" y="205.60000000000002" textLength="48" lengthAdjust="spacingAndGlyphs" font-size="14.4">44000890</text>
<text x="639.3" y="225.20000000000002" textLength="48" lengthAdjust="spacingAndGlyphs" font-size="14.4">44010521</text>
<text x="902" y="56.0" textLength="42" lengthAdjust="spacingAndGlyphs" font-size="14.4">4952958</text>
<text x="902.5" y="76.2" textLength="47.5" lengthAdjust="spacingAndGlyphs" font-size="14.4">16043821</text>
<text x="1072.6" y="56.8" textLength="47.5" lengthAdjust="spacingAndGlyphs" font-size="14.4">28042480</text>
<text x="1072.6" y="76.8" textLength="47.5" lengthAdjust="spacingAndGlyphs" font-size="14.4">44002963</text>
<text x="1072.6" y="96.8" textLength="47.5" lengthAdjust="spacingAndGlyphs" font-size="14.4">44881840</text>
<text x="1072.6" y="222.3" textLength="47.5" lengthAdjust="spacingAndGlyphs" font-size="14.4">44002976</text>
<text x="1072.6" y="242.8" textLength="47.5" lengthAdjust="spacingAndGlyphs" font-size="14.4">44002970</text>
<text x="1072.6" y="263.05" textLength="47.5" lengthAdjust="spacingAndGlyphs" font-size="14.4">44002964</text>
<text x="1072.6" y="283.55" textLength="47.5" lengthAdjust="spacingAndGlyphs" font-size="14.4">44880704</text>
<text x="1072.6" y="304.3" textLength="47.5" lengthAdjust="spacingAndGlyphs" font-size="14.4">44002966</text>
<text x="1072.6" y="325.3" textLength="47.5" lengthAdjust="spacingAndGlyphs" font-size="14.4">44881709</text>
<text x="1072.6" y="346.55" textLength="47.5" lengthAdjust="spacingAndGlyphs" font-size="14.4">44002968</text>
<text x="1072.6" y="367.8" textLength="47.5" lengthAdjust="spacingAndGlyphs" font-size="14.4">16043621</text>
<text x="1072.6" y="388.55" textLength="47.5" lengthAdjust="spacingAndGlyphs" font-size="14.4">10516670</text>
<text x="1072.6" y="472.8" textLength="47.5" lengthAdjust="spacingAndGlyphs" font-size="14.4">44002977</text>
<text x="1072.6" y="494.3" textLength="47.5" lengthAdjust="spacingAndGlyphs" font-size="14.4">11061375</text>
<text x="1072.6" y="514.3" textLength="47.5" lengthAdjust="spacingAndGlyphs" font-size="14.4">23042480</text>
<text x="1072.6" y="535.55" textLength="47.5" lengthAdjust="spacingAndGlyphs" font-size="14.4">11061375</text>
<text x="537" y="482.8" textLength="47" lengthAdjust="spacingAndGlyphs" font-size="14.4">10517070</text>
<text x="537" y="504.05" textLength="47" lengthAdjust="spacingAndGlyphs" font-size="14.4">44881289</text>
<text x="537" y="525.55" textLength="47" lengthAdjust="spacingAndGlyphs" font-size="14.4">44881288</text>
<text x="537" y="547.3" textLength="47" lengthAdjust="spacingAndGlyphs" font-size="14.4">11061075</text>
<text x="537" y="569.3" textLength="47" lengthAdjust="spacingAndGlyphs" font-size="14.4">11068375</text>
<text x="811.8" y="489.05" textLength="47.5" lengthAdjust="spacingAndGlyphs" font-size="14.4">15540321</text>
<text x="811.8" y="509.05" textLength="47.5" lengthAdjust="spacingAndGlyphs" font-size="14.4">10517070</text>
<text x="811.8" y="529.8" textLength="47.5" lengthAdjust="spacingAndGlyphs" font-size="14.4">44008719</text>
<text x="811.8" y="552.3" textLength="47.5" lengthAdjust="spacingAndGlyphs" font-size="14.4">44881288</text>
<text x="811.8" y="573.05" textLength="47.5" lengthAdjust="spacingAndGlyphs" font-size="14.4">44881289</text>
<text x="221" y="110" font-size="9.5" textLength="14.5" lengthAdjust="spacingAndGlyphs" fill="#333" stroke="none">(✲)</text>
<text x="221" y="130.8" font-size="9.5" textLength="14.5" lengthAdjust="spacingAndGlyphs" fill="#333" stroke="none">(✲)</text>
<text x="619" y="83.8" font-size="9.5" textLength="14.5" lengthAdjust="spacingAndGlyphs" fill="#333" stroke="none">(✲)</text>
<text x="619" y="145.8" font-size="9.5" textLength="14.5" lengthAdjust="spacingAndGlyphs" fill="#333" stroke="none">(✲)</text>
<text x="392.5" y="599.5" font-size="9.5" textLength="14.5" lengthAdjust="spacingAndGlyphs" fill="#333" stroke="none">(✲)</text>
<text x="619" y="125" font-size="9.5" textLength="14.5" lengthAdjust="spacingAndGlyphs" stroke="none">(✱)</text>
<text transform="scale(0.95,1)" x="644.45 649.02 654.60 661.19" y="205.5" font-size="9" stroke-width="0.2">(01)</text>
<text transform="scale(0.95,1)" x="633.16 637.68 643.21 649.74 654.26 659.79 666.32" y="224.8" font-size="9" stroke-width="0.2">(03-04)</text>
<text x="219.5" y="256" font-size="9.5" font-weight="bold" stroke="none">d</text>
<text x="802" y="530" font-size="8.5" font-weight="bold" stroke="none">s</text>
<text transform="scale(0.74,1)" x="561.01 570.01 578.26 586.50 596.28 602.99 613.15 619.47 630.02 635.96 644.20 652.83 660.69" y="600" font-size="13.8">Vedere elenco</text>
<text transform="scale(0.74,1)" x="709.27 715.24 724.27 734.85 742.35 751.00 759.66 765.62 775.81 784.47 792.74 799.09 808.89 815.24" y="600" font-size="13.8">-Voir la liste</text>
<text transform="scale(0.74,1)" x="867.28 873.04 884.18 889.94 898.01 906.07 916.06 921.83 930.28 938.34 946.41 956.78 964.85 970.62" y="600" font-size="13.8">-Siehe Tabelle</text>
<text transform="scale(0.74,1)" x="1025.27 1030.80 1039.41 1047.24 1057.00 1065.22 1073.06 1078.98 1088.35" y="600" font-size="13.8">-See list</text>
<text transform="scale(0.74,1)" x="1138.26 1144.11 1153.02 1161.17 1169.71 1177.47 1187.54 1196.07 1201.91 1211.98 1220.51 1228.66 1234.89 1244.58 1250.80" y="600" font-size="13.8">-Vèase la lista</text>
<ellipse cx="678.7" cy="559.5" rx="21.7" ry="11.2" fill="none" stroke="#000" stroke-width="1.3"/>
<text x="664" y="563.2" font-size="10.4" font-weight="bold" textLength="30" lengthAdjust="spacingAndGlyphs" stroke="none">21869</text>
<g stroke="none">
<text transform="scale(1.2,1)" x="152.47 164.08 176.16" y="669.6" font-size="22.5" font-weight="bold" stroke="#000" stroke-width="0.5">750</text>
<text transform="scale(1.0,1)" x="161.26 172.51" y="700.1" font-size="17.4" stroke="#000" stroke-width="0.3">01</text>
<text transform="scale(1.0,1)" x="201.76 214.61" y="700.1" font-size="17.4" stroke="#000" stroke-width="0.3">03</text>
<text transform="scale(1.0,1)" x="242.26 255.61" y="700.1" font-size="17.4" stroke="#000" stroke-width="0.3">04</text>
<text transform="scale(1.1,1)" x="531.86 548.06 563.99 579.49 595.62" y="658.2" font-size="17.6" font-weight="bold" stroke="#000" stroke-width="0.35">PRESA</text>
<text transform="scale(1.1,1)" x="621.65 639.10" y="658.2" font-size="17.6" font-weight="bold" stroke="#000" stroke-width="0.35">DI</text>
<text transform="scale(1.1,1)" x="656.26 669.97 687.69 703.76 718.51" y="658.2" font-size="17.6" font-weight="bold" stroke="#000" stroke-width="0.35">FORZA</text>
<g font-style="italic" font-size="14.6" stroke="#000" stroke-width="0.3">
<text x="369" y="682.5">•</text><text x="384.5" y="682.5" textLength="90" lengthAdjust="spacingAndGlyphs">Prise de force</text>
<text x="369" y="700.7">•</text><text x="384.5" y="700.7" textLength="59" lengthAdjust="spacingAndGlyphs">Zapfwelle</text>
<text x="708.5" y="681.3">•</text><text x="721" y="681.3" textLength="98.5" lengthAdjust="spacingAndGlyphs">Power Take-off</text>
<text x="708.5" y="699.5">•</text><text x="721" y="699.5" textLength="101.5" lengthAdjust="spacingAndGlyphs">Toma de fuerza</text>
</g>
<text x="1030.6" y="650.6" font-size="7" font-weight="bold">1</text>
<text transform="scale(0.85,1)" x="1284.13 1301.43 1315.80 1321.63 1336.72" y="657.2" font-size="26.6" font-weight="bold" stroke="#000" stroke-width="0.5">E2.16</text>
</g>
</g>
<g id="frame" stroke="#000" fill="none">
<line x1="107.5" y1="631" x2="1172" y2="631" stroke-width="2"/>
<line x1="345" y1="631" x2="345" y2="713.5" stroke-width="2"/>
<line x1="1044.7" y1="631" x2="1044.7" y2="713.5" stroke-width="2"/>
<line x1="1044" y1="666" x2="1172" y2="666" stroke-width="1.3"/>
<line x1="1104" y1="666" x2="1104" y2="713.5" stroke-width="1.2"/>

</g>
</svg>
</body></html>
